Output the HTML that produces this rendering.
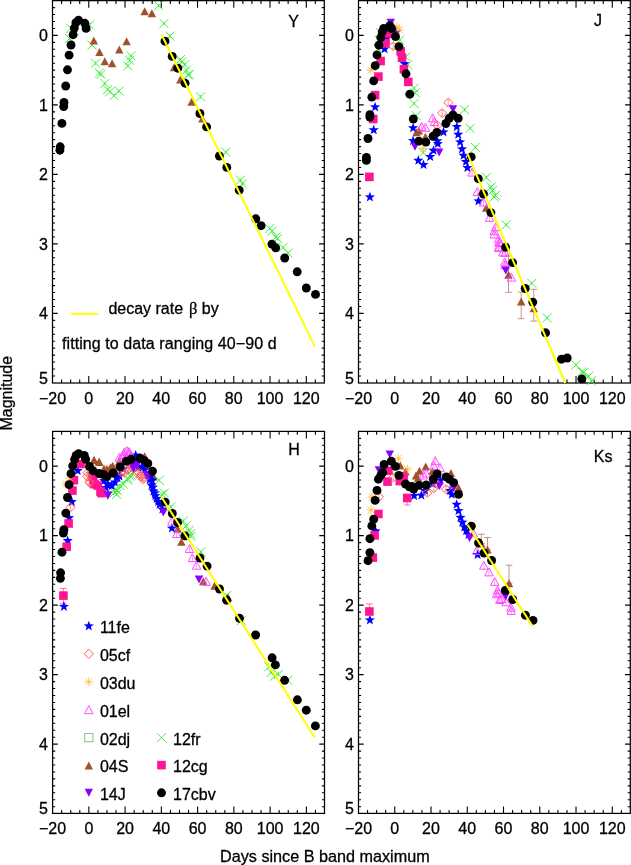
<!DOCTYPE html>
<html><head><meta charset="utf-8"><title>Light curves</title>
<style>html,body{margin:0;padding:0;background:#fff;width:631px;height:865px;overflow:hidden}
svg{display:block;will-change:transform} text{font-family:"Liberation Sans",sans-serif;stroke:#000;stroke-width:0.3px}</style></head>
<body><svg width="631" height="865" viewBox="0 0 631 865" font-family='"Liberation Sans", sans-serif' font-size="16" fill="#000"><rect x="52.5" y="0.65" width="271.8" height="382.35" fill="none" stroke="#000" stroke-width="1.25"/>
<path d="M61.56 383V379.6M61.56 0.65V4.05M70.63 383V379.6M70.63 0.65V4.05M79.69 383V379.6M79.69 0.65V4.05M88.75 383V376M88.75 0.65V7.65M97.82 383V379.6M97.82 0.65V4.05M106.88 383V379.6M106.88 0.65V4.05M115.94 383V379.6M115.94 0.65V4.05M125.01 383V376M125.01 0.65V7.65M134.07 383V379.6M134.07 0.65V4.05M143.13 383V379.6M143.13 0.65V4.05M152.2 383V379.6M152.2 0.65V4.05M161.26 383V376M161.26 0.65V7.65M170.33 383V379.6M170.33 0.65V4.05M179.39 383V379.6M179.39 0.65V4.05M188.45 383V379.6M188.45 0.65V4.05M197.52 383V376M197.52 0.65V7.65M206.58 383V379.6M206.58 0.65V4.05M215.64 383V379.6M215.64 0.65V4.05M224.71 383V379.6M224.71 0.65V4.05M233.77 383V376M233.77 0.65V7.65M242.83 383V379.6M242.83 0.65V4.05M251.9 383V379.6M251.9 0.65V4.05M260.96 383V379.6M260.96 0.65V4.05M270.02 383V376M270.02 0.65V7.65M279.09 383V379.6M279.09 0.65V4.05M288.15 383V379.6M288.15 0.65V4.05M297.21 383V379.6M297.21 0.65V4.05M306.28 383V376M306.28 0.65V7.65M315.34 383V379.6M315.34 0.65V4.05M52.5 7.6H55.1M324.3 7.6H321.7M52.5 14.55H55.1M324.3 14.55H321.7M52.5 21.5H55.1M324.3 21.5H321.7M52.5 28.45H55.1M324.3 28.45H321.7M52.5 35.4H57.7M324.3 35.4H319.1M52.5 42.35H55.1M324.3 42.35H321.7M52.5 49.3H55.1M324.3 49.3H321.7M52.5 56.25H55.1M324.3 56.25H321.7M52.5 63.2H55.1M324.3 63.2H321.7M52.5 70.15H55.1M324.3 70.15H321.7M52.5 77.1H55.1M324.3 77.1H321.7M52.5 84.05H55.1M324.3 84.05H321.7M52.5 91H55.1M324.3 91H321.7M52.5 97.95H55.1M324.3 97.95H321.7M52.5 104.9H57.7M324.3 104.9H319.1M52.5 111.85H55.1M324.3 111.85H321.7M52.5 118.8H55.1M324.3 118.8H321.7M52.5 125.75H55.1M324.3 125.75H321.7M52.5 132.7H55.1M324.3 132.7H321.7M52.5 139.65H55.1M324.3 139.65H321.7M52.5 146.6H55.1M324.3 146.6H321.7M52.5 153.55H55.1M324.3 153.55H321.7M52.5 160.5H55.1M324.3 160.5H321.7M52.5 167.45H55.1M324.3 167.45H321.7M52.5 174.4H57.7M324.3 174.4H319.1M52.5 181.35H55.1M324.3 181.35H321.7M52.5 188.3H55.1M324.3 188.3H321.7M52.5 195.25H55.1M324.3 195.25H321.7M52.5 202.2H55.1M324.3 202.2H321.7M52.5 209.15H55.1M324.3 209.15H321.7M52.5 216.1H55.1M324.3 216.1H321.7M52.5 223.05H55.1M324.3 223.05H321.7M52.5 230H55.1M324.3 230H321.7M52.5 236.95H55.1M324.3 236.95H321.7M52.5 243.9H57.7M324.3 243.9H319.1M52.5 250.85H55.1M324.3 250.85H321.7M52.5 257.8H55.1M324.3 257.8H321.7M52.5 264.75H55.1M324.3 264.75H321.7M52.5 271.7H55.1M324.3 271.7H321.7M52.5 278.65H55.1M324.3 278.65H321.7M52.5 285.6H55.1M324.3 285.6H321.7M52.5 292.55H55.1M324.3 292.55H321.7M52.5 299.5H55.1M324.3 299.5H321.7M52.5 306.45H55.1M324.3 306.45H321.7M52.5 313.4H57.7M324.3 313.4H319.1M52.5 320.35H55.1M324.3 320.35H321.7M52.5 327.3H55.1M324.3 327.3H321.7M52.5 334.25H55.1M324.3 334.25H321.7M52.5 341.2H55.1M324.3 341.2H321.7M52.5 348.15H55.1M324.3 348.15H321.7M52.5 355.1H55.1M324.3 355.1H321.7M52.5 362.05H55.1M324.3 362.05H321.7M52.5 369H55.1M324.3 369H321.7M52.5 375.95H55.1M324.3 375.95H321.7" stroke="#000" stroke-width="1.1" fill="none"/>
<text x="52.5" y="403.8" text-anchor="middle">−20</text>
<text x="88.75" y="403.8" text-anchor="middle">0</text>
<text x="125.01" y="403.8" text-anchor="middle">20</text>
<text x="161.26" y="403.8" text-anchor="middle">40</text>
<text x="197.52" y="403.8" text-anchor="middle">60</text>
<text x="233.77" y="403.8" text-anchor="middle">80</text>
<text x="270.02" y="403.8" text-anchor="middle">100</text>
<text x="306.28" y="403.8" text-anchor="middle">120</text>
<text x="47.9" y="41.1" text-anchor="end">0</text>
<text x="47.9" y="110.6" text-anchor="end">1</text>
<text x="47.9" y="180.1" text-anchor="end">2</text>
<text x="47.9" y="249.6" text-anchor="end">3</text>
<text x="47.9" y="319.1" text-anchor="end">4</text>
<text x="47.9" y="383.6" text-anchor="end">5</text>
<rect x="358.5" y="0.65" width="271.8" height="382.35" fill="none" stroke="#000" stroke-width="1.25"/>
<path d="M367.56 383V379.6M367.56 0.65V4.05M376.63 383V379.6M376.63 0.65V4.05M385.69 383V379.6M385.69 0.65V4.05M394.75 383V376M394.75 0.65V7.65M403.82 383V379.6M403.82 0.65V4.05M412.88 383V379.6M412.88 0.65V4.05M421.94 383V379.6M421.94 0.65V4.05M431.01 383V376M431.01 0.65V7.65M440.07 383V379.6M440.07 0.65V4.05M449.13 383V379.6M449.13 0.65V4.05M458.2 383V379.6M458.2 0.65V4.05M467.26 383V376M467.26 0.65V7.65M476.33 383V379.6M476.33 0.65V4.05M485.39 383V379.6M485.39 0.65V4.05M494.45 383V379.6M494.45 0.65V4.05M503.52 383V376M503.52 0.65V7.65M512.58 383V379.6M512.58 0.65V4.05M521.64 383V379.6M521.64 0.65V4.05M530.71 383V379.6M530.71 0.65V4.05M539.77 383V376M539.77 0.65V7.65M548.83 383V379.6M548.83 0.65V4.05M557.9 383V379.6M557.9 0.65V4.05M566.96 383V379.6M566.96 0.65V4.05M576.02 383V376M576.02 0.65V7.65M585.09 383V379.6M585.09 0.65V4.05M594.15 383V379.6M594.15 0.65V4.05M603.21 383V379.6M603.21 0.65V4.05M612.28 383V376M612.28 0.65V7.65M621.34 383V379.6M621.34 0.65V4.05M358.5 7.6H361.1M630.3 7.6H627.7M358.5 14.55H361.1M630.3 14.55H627.7M358.5 21.5H361.1M630.3 21.5H627.7M358.5 28.45H361.1M630.3 28.45H627.7M358.5 35.4H363.7M630.3 35.4H625.1M358.5 42.35H361.1M630.3 42.35H627.7M358.5 49.3H361.1M630.3 49.3H627.7M358.5 56.25H361.1M630.3 56.25H627.7M358.5 63.2H361.1M630.3 63.2H627.7M358.5 70.15H361.1M630.3 70.15H627.7M358.5 77.1H361.1M630.3 77.1H627.7M358.5 84.05H361.1M630.3 84.05H627.7M358.5 91H361.1M630.3 91H627.7M358.5 97.95H361.1M630.3 97.95H627.7M358.5 104.9H363.7M630.3 104.9H625.1M358.5 111.85H361.1M630.3 111.85H627.7M358.5 118.8H361.1M630.3 118.8H627.7M358.5 125.75H361.1M630.3 125.75H627.7M358.5 132.7H361.1M630.3 132.7H627.7M358.5 139.65H361.1M630.3 139.65H627.7M358.5 146.6H361.1M630.3 146.6H627.7M358.5 153.55H361.1M630.3 153.55H627.7M358.5 160.5H361.1M630.3 160.5H627.7M358.5 167.45H361.1M630.3 167.45H627.7M358.5 174.4H363.7M630.3 174.4H625.1M358.5 181.35H361.1M630.3 181.35H627.7M358.5 188.3H361.1M630.3 188.3H627.7M358.5 195.25H361.1M630.3 195.25H627.7M358.5 202.2H361.1M630.3 202.2H627.7M358.5 209.15H361.1M630.3 209.15H627.7M358.5 216.1H361.1M630.3 216.1H627.7M358.5 223.05H361.1M630.3 223.05H627.7M358.5 230H361.1M630.3 230H627.7M358.5 236.95H361.1M630.3 236.95H627.7M358.5 243.9H363.7M630.3 243.9H625.1M358.5 250.85H361.1M630.3 250.85H627.7M358.5 257.8H361.1M630.3 257.8H627.7M358.5 264.75H361.1M630.3 264.75H627.7M358.5 271.7H361.1M630.3 271.7H627.7M358.5 278.65H361.1M630.3 278.65H627.7M358.5 285.6H361.1M630.3 285.6H627.7M358.5 292.55H361.1M630.3 292.55H627.7M358.5 299.5H361.1M630.3 299.5H627.7M358.5 306.45H361.1M630.3 306.45H627.7M358.5 313.4H363.7M630.3 313.4H625.1M358.5 320.35H361.1M630.3 320.35H627.7M358.5 327.3H361.1M630.3 327.3H627.7M358.5 334.25H361.1M630.3 334.25H627.7M358.5 341.2H361.1M630.3 341.2H627.7M358.5 348.15H361.1M630.3 348.15H627.7M358.5 355.1H361.1M630.3 355.1H627.7M358.5 362.05H361.1M630.3 362.05H627.7M358.5 369H361.1M630.3 369H627.7M358.5 375.95H361.1M630.3 375.95H627.7" stroke="#000" stroke-width="1.1" fill="none"/>
<text x="358.5" y="403.8" text-anchor="middle">−20</text>
<text x="394.75" y="403.8" text-anchor="middle">0</text>
<text x="431.01" y="403.8" text-anchor="middle">20</text>
<text x="467.26" y="403.8" text-anchor="middle">40</text>
<text x="503.52" y="403.8" text-anchor="middle">60</text>
<text x="539.77" y="403.8" text-anchor="middle">80</text>
<text x="576.02" y="403.8" text-anchor="middle">100</text>
<text x="612.28" y="403.8" text-anchor="middle">120</text>
<text x="353.9" y="41.1" text-anchor="end">0</text>
<text x="353.9" y="110.6" text-anchor="end">1</text>
<text x="353.9" y="180.1" text-anchor="end">2</text>
<text x="353.9" y="249.6" text-anchor="end">3</text>
<text x="353.9" y="319.1" text-anchor="end">4</text>
<text x="353.9" y="383.6" text-anchor="end">5</text>
<rect x="52.6" y="431.4" width="271.9" height="382" fill="none" stroke="#000" stroke-width="1.25"/>
<path d="M61.66 813.4V810M61.66 431.4V434.8M70.73 813.4V810M70.73 431.4V434.8M79.79 813.4V810M79.79 431.4V434.8M88.85 813.4V806.4M88.85 431.4V438.4M97.92 813.4V810M97.92 431.4V434.8M106.98 813.4V810M106.98 431.4V434.8M116.04 813.4V810M116.04 431.4V434.8M125.11 813.4V806.4M125.11 431.4V438.4M134.17 813.4V810M134.17 431.4V434.8M143.24 813.4V810M143.24 431.4V434.8M152.3 813.4V810M152.3 431.4V434.8M161.36 813.4V806.4M161.36 431.4V438.4M170.43 813.4V810M170.43 431.4V434.8M179.49 813.4V810M179.49 431.4V434.8M188.55 813.4V810M188.55 431.4V434.8M197.62 813.4V806.4M197.62 431.4V438.4M206.68 813.4V810M206.68 431.4V434.8M215.74 813.4V810M215.74 431.4V434.8M224.81 813.4V810M224.81 431.4V434.8M233.87 813.4V806.4M233.87 431.4V438.4M242.93 813.4V810M242.93 431.4V434.8M252 813.4V810M252 431.4V434.8M261.06 813.4V810M261.06 431.4V434.8M270.12 813.4V806.4M270.12 431.4V438.4M279.19 813.4V810M279.19 431.4V434.8M288.25 813.4V810M288.25 431.4V434.8M297.31 813.4V810M297.31 431.4V434.8M306.38 813.4V806.4M306.38 431.4V438.4M315.44 813.4V810M315.44 431.4V434.8M52.6 438.35H55.2M324.5 438.35H321.9M52.6 445.3H55.2M324.5 445.3H321.9M52.6 452.25H55.2M324.5 452.25H321.9M52.6 459.2H55.2M324.5 459.2H321.9M52.6 466.15H57.8M324.5 466.15H319.3M52.6 473.1H55.2M324.5 473.1H321.9M52.6 480.05H55.2M324.5 480.05H321.9M52.6 487H55.2M324.5 487H321.9M52.6 493.95H55.2M324.5 493.95H321.9M52.6 500.9H55.2M324.5 500.9H321.9M52.6 507.85H55.2M324.5 507.85H321.9M52.6 514.8H55.2M324.5 514.8H321.9M52.6 521.75H55.2M324.5 521.75H321.9M52.6 528.7H55.2M324.5 528.7H321.9M52.6 535.65H57.8M324.5 535.65H319.3M52.6 542.6H55.2M324.5 542.6H321.9M52.6 549.55H55.2M324.5 549.55H321.9M52.6 556.5H55.2M324.5 556.5H321.9M52.6 563.45H55.2M324.5 563.45H321.9M52.6 570.4H55.2M324.5 570.4H321.9M52.6 577.35H55.2M324.5 577.35H321.9M52.6 584.3H55.2M324.5 584.3H321.9M52.6 591.25H55.2M324.5 591.25H321.9M52.6 598.2H55.2M324.5 598.2H321.9M52.6 605.15H57.8M324.5 605.15H319.3M52.6 612.1H55.2M324.5 612.1H321.9M52.6 619.05H55.2M324.5 619.05H321.9M52.6 626H55.2M324.5 626H321.9M52.6 632.95H55.2M324.5 632.95H321.9M52.6 639.9H55.2M324.5 639.9H321.9M52.6 646.85H55.2M324.5 646.85H321.9M52.6 653.8H55.2M324.5 653.8H321.9M52.6 660.75H55.2M324.5 660.75H321.9M52.6 667.7H55.2M324.5 667.7H321.9M52.6 674.65H57.8M324.5 674.65H319.3M52.6 681.6H55.2M324.5 681.6H321.9M52.6 688.55H55.2M324.5 688.55H321.9M52.6 695.5H55.2M324.5 695.5H321.9M52.6 702.45H55.2M324.5 702.45H321.9M52.6 709.4H55.2M324.5 709.4H321.9M52.6 716.35H55.2M324.5 716.35H321.9M52.6 723.3H55.2M324.5 723.3H321.9M52.6 730.25H55.2M324.5 730.25H321.9M52.6 737.2H55.2M324.5 737.2H321.9M52.6 744.15H57.8M324.5 744.15H319.3M52.6 751.1H55.2M324.5 751.1H321.9M52.6 758.05H55.2M324.5 758.05H321.9M52.6 765H55.2M324.5 765H321.9M52.6 771.95H55.2M324.5 771.95H321.9M52.6 778.9H55.2M324.5 778.9H321.9M52.6 785.85H55.2M324.5 785.85H321.9M52.6 792.8H55.2M324.5 792.8H321.9M52.6 799.75H55.2M324.5 799.75H321.9M52.6 806.7H55.2M324.5 806.7H321.9" stroke="#000" stroke-width="1.1" fill="none"/>
<text x="52.6" y="834.2" text-anchor="middle">−20</text>
<text x="88.85" y="834.2" text-anchor="middle">0</text>
<text x="125.11" y="834.2" text-anchor="middle">20</text>
<text x="161.36" y="834.2" text-anchor="middle">40</text>
<text x="197.62" y="834.2" text-anchor="middle">60</text>
<text x="233.87" y="834.2" text-anchor="middle">80</text>
<text x="270.12" y="834.2" text-anchor="middle">100</text>
<text x="306.38" y="834.2" text-anchor="middle">120</text>
<text x="48" y="471.85" text-anchor="end">0</text>
<text x="48" y="541.35" text-anchor="end">1</text>
<text x="48" y="610.85" text-anchor="end">2</text>
<text x="48" y="680.35" text-anchor="end">3</text>
<text x="48" y="749.85" text-anchor="end">4</text>
<text x="48" y="814.35" text-anchor="end">5</text>
<rect x="358.5" y="431.4" width="271.8" height="382" fill="none" stroke="#000" stroke-width="1.25"/>
<path d="M367.56 813.4V810M367.56 431.4V434.8M376.63 813.4V810M376.63 431.4V434.8M385.69 813.4V810M385.69 431.4V434.8M394.75 813.4V806.4M394.75 431.4V438.4M403.82 813.4V810M403.82 431.4V434.8M412.88 813.4V810M412.88 431.4V434.8M421.94 813.4V810M421.94 431.4V434.8M431.01 813.4V806.4M431.01 431.4V438.4M440.07 813.4V810M440.07 431.4V434.8M449.13 813.4V810M449.13 431.4V434.8M458.2 813.4V810M458.2 431.4V434.8M467.26 813.4V806.4M467.26 431.4V438.4M476.33 813.4V810M476.33 431.4V434.8M485.39 813.4V810M485.39 431.4V434.8M494.45 813.4V810M494.45 431.4V434.8M503.52 813.4V806.4M503.52 431.4V438.4M512.58 813.4V810M512.58 431.4V434.8M521.64 813.4V810M521.64 431.4V434.8M530.71 813.4V810M530.71 431.4V434.8M539.77 813.4V806.4M539.77 431.4V438.4M548.83 813.4V810M548.83 431.4V434.8M557.9 813.4V810M557.9 431.4V434.8M566.96 813.4V810M566.96 431.4V434.8M576.02 813.4V806.4M576.02 431.4V438.4M585.09 813.4V810M585.09 431.4V434.8M594.15 813.4V810M594.15 431.4V434.8M603.21 813.4V810M603.21 431.4V434.8M612.28 813.4V806.4M612.28 431.4V438.4M621.34 813.4V810M621.34 431.4V434.8M358.5 438.35H361.1M630.3 438.35H627.7M358.5 445.3H361.1M630.3 445.3H627.7M358.5 452.25H361.1M630.3 452.25H627.7M358.5 459.2H361.1M630.3 459.2H627.7M358.5 466.15H363.7M630.3 466.15H625.1M358.5 473.1H361.1M630.3 473.1H627.7M358.5 480.05H361.1M630.3 480.05H627.7M358.5 487H361.1M630.3 487H627.7M358.5 493.95H361.1M630.3 493.95H627.7M358.5 500.9H361.1M630.3 500.9H627.7M358.5 507.85H361.1M630.3 507.85H627.7M358.5 514.8H361.1M630.3 514.8H627.7M358.5 521.75H361.1M630.3 521.75H627.7M358.5 528.7H361.1M630.3 528.7H627.7M358.5 535.65H363.7M630.3 535.65H625.1M358.5 542.6H361.1M630.3 542.6H627.7M358.5 549.55H361.1M630.3 549.55H627.7M358.5 556.5H361.1M630.3 556.5H627.7M358.5 563.45H361.1M630.3 563.45H627.7M358.5 570.4H361.1M630.3 570.4H627.7M358.5 577.35H361.1M630.3 577.35H627.7M358.5 584.3H361.1M630.3 584.3H627.7M358.5 591.25H361.1M630.3 591.25H627.7M358.5 598.2H361.1M630.3 598.2H627.7M358.5 605.15H363.7M630.3 605.15H625.1M358.5 612.1H361.1M630.3 612.1H627.7M358.5 619.05H361.1M630.3 619.05H627.7M358.5 626H361.1M630.3 626H627.7M358.5 632.95H361.1M630.3 632.95H627.7M358.5 639.9H361.1M630.3 639.9H627.7M358.5 646.85H361.1M630.3 646.85H627.7M358.5 653.8H361.1M630.3 653.8H627.7M358.5 660.75H361.1M630.3 660.75H627.7M358.5 667.7H361.1M630.3 667.7H627.7M358.5 674.65H363.7M630.3 674.65H625.1M358.5 681.6H361.1M630.3 681.6H627.7M358.5 688.55H361.1M630.3 688.55H627.7M358.5 695.5H361.1M630.3 695.5H627.7M358.5 702.45H361.1M630.3 702.45H627.7M358.5 709.4H361.1M630.3 709.4H627.7M358.5 716.35H361.1M630.3 716.35H627.7M358.5 723.3H361.1M630.3 723.3H627.7M358.5 730.25H361.1M630.3 730.25H627.7M358.5 737.2H361.1M630.3 737.2H627.7M358.5 744.15H363.7M630.3 744.15H625.1M358.5 751.1H361.1M630.3 751.1H627.7M358.5 758.05H361.1M630.3 758.05H627.7M358.5 765H361.1M630.3 765H627.7M358.5 771.95H361.1M630.3 771.95H627.7M358.5 778.9H361.1M630.3 778.9H627.7M358.5 785.85H361.1M630.3 785.85H627.7M358.5 792.8H361.1M630.3 792.8H627.7M358.5 799.75H361.1M630.3 799.75H627.7M358.5 806.7H361.1M630.3 806.7H627.7" stroke="#000" stroke-width="1.1" fill="none"/>
<text x="358.5" y="834.2" text-anchor="middle">−20</text>
<text x="394.75" y="834.2" text-anchor="middle">0</text>
<text x="431.01" y="834.2" text-anchor="middle">20</text>
<text x="467.26" y="834.2" text-anchor="middle">40</text>
<text x="503.52" y="834.2" text-anchor="middle">60</text>
<text x="539.77" y="834.2" text-anchor="middle">80</text>
<text x="576.02" y="834.2" text-anchor="middle">100</text>
<text x="612.28" y="834.2" text-anchor="middle">120</text>
<text x="353.9" y="471.85" text-anchor="end">0</text>
<text x="353.9" y="541.35" text-anchor="end">1</text>
<text x="353.9" y="610.85" text-anchor="end">2</text>
<text x="353.9" y="680.35" text-anchor="end">3</text>
<text x="353.9" y="749.85" text-anchor="end">4</text>
<text x="353.9" y="814.35" text-anchor="end">5</text>
<path d="M65.1 34L74.1 43M65.1 43L74.1 34M69.6 36.9V40.1" stroke="#44ee44" stroke-width="1.0" fill="none"/>
<path d="M66.3 23.9L75.3 32.9M66.3 32.9L75.3 23.9M70.8 26.8V30" stroke="#44ee44" stroke-width="1.0" fill="none"/>
<path d="M69.5 26.5L78.5 35.5M69.5 35.5L78.5 26.5M74 29.4V32.6" stroke="#44ee44" stroke-width="1.0" fill="none"/>
<path d="M82.5 22.5L91.5 31.5M82.5 31.5L91.5 22.5M87 25.4V28.6" stroke="#44ee44" stroke-width="1.0" fill="none"/>
<path d="M85 20.5L94 29.5M85 29.5L94 20.5M89.5 23.4V26.6" stroke="#44ee44" stroke-width="1.0" fill="none"/>
<path d="M87.4 40.5L96.4 49.5M87.4 49.5L96.4 40.5M91.9 43.4V46.6" stroke="#44ee44" stroke-width="1.0" fill="none"/>
<path d="M91.1 58.7L100.1 67.7M91.1 67.7L100.1 58.7M95.6 61.6V64.8" stroke="#44ee44" stroke-width="1.0" fill="none"/>
<path d="M94.9 68.6L103.9 77.6M94.9 77.6L103.9 68.6M99.4 71.5V74.7" stroke="#44ee44" stroke-width="1.0" fill="none"/>
<path d="M96.5 69.8L105.5 78.8M96.5 78.8L105.5 69.8M101 72.7V75.9" stroke="#44ee44" stroke-width="1.0" fill="none"/>
<path d="M100.3 79L109.3 88M100.3 88L109.3 79M104.8 81.9V85.1" stroke="#44ee44" stroke-width="1.0" fill="none"/>
<path d="M103.2 85L112.2 94M103.2 94L112.2 85M107.7 87.9V91.1" stroke="#44ee44" stroke-width="1.0" fill="none"/>
<path d="M105.4 87.3L114.4 96.3M105.4 96.3L114.4 87.3M109.9 90.2V93.4" stroke="#44ee44" stroke-width="1.0" fill="none"/>
<path d="M109.5 91.1L118.5 100.1M109.5 100.1L118.5 91.1M114 94V97.2" stroke="#44ee44" stroke-width="1.0" fill="none"/>
<path d="M114.6 86.6L123.6 95.6M114.6 95.6L123.6 86.6M119.1 89.5V92.7" stroke="#44ee44" stroke-width="1.0" fill="none"/>
<path d="M123.3 61.4L132.3 70.4M123.3 70.4L132.3 61.4M127.8 64.3V67.5" stroke="#44ee44" stroke-width="1.0" fill="none"/>
<path d="M125.2 55.7L134.2 64.7M125.2 64.7L134.2 55.7M129.7 58.6V61.8" stroke="#44ee44" stroke-width="1.0" fill="none"/>
<path d="M126.5 51.3L135.5 60.3M126.5 60.3L135.5 51.3M131 54.2V57.4" stroke="#44ee44" stroke-width="1.0" fill="none"/>
<path d="M154.1 1.2L163.1 10.2M154.1 10.2L163.1 1.2M158.6 4.1V7.3" stroke="#44ee44" stroke-width="1.0" fill="none"/>
<path d="M159.5 18.9L168.5 27.9M159.5 27.9L168.5 18.9M164 21.8V25" stroke="#44ee44" stroke-width="1.0" fill="none"/>
<path d="M165.5 31.6L174.5 40.6M165.5 40.6L174.5 31.6M170 34.5V37.7" stroke="#44ee44" stroke-width="1.0" fill="none"/>
<path d="M175.9 55.1L184.9 64.1M175.9 64.1L184.9 55.1M180.4 58V61.2" stroke="#44ee44" stroke-width="1.0" fill="none"/>
<path d="M177 57.4L186 66.4M177 66.4L186 57.4M181.5 60.3V63.5" stroke="#44ee44" stroke-width="1.0" fill="none"/>
<path d="M180.4 60.1L189.4 69.1M180.4 69.1L189.4 60.1M184.9 63V66.2" stroke="#44ee44" stroke-width="1.0" fill="none"/>
<path d="M182.1 65.6L191.1 74.6M182.1 74.6L191.1 65.6M186.6 68.5V71.7" stroke="#44ee44" stroke-width="1.0" fill="none"/>
<path d="M183.5 70.3L192.5 79.3M183.5 79.3L192.5 70.3M188 73.2V76.4" stroke="#44ee44" stroke-width="1.0" fill="none"/>
<path d="M184.6 70.1L193.6 79.1M184.6 79.1L193.6 70.1M189.1 73V76.2" stroke="#44ee44" stroke-width="1.0" fill="none"/>
<path d="M196 92.3L205 101.3M196 101.3L205 92.3M200.5 95.2V98.4" stroke="#44ee44" stroke-width="1.0" fill="none"/>
<path d="M221.2 147.7L230.2 156.7M221.2 156.7L230.2 147.7M225.7 150.6V153.8" stroke="#44ee44" stroke-width="1.0" fill="none"/>
<path d="M236 175.6L245 184.6M236 184.6L245 175.6M240.5 178.5V181.7" stroke="#44ee44" stroke-width="1.0" fill="none"/>
<path d="M237.9 179.4L246.9 188.4M237.9 188.4L246.9 179.4M242.4 182.3V185.5" stroke="#44ee44" stroke-width="1.0" fill="none"/>
<path d="M265.2 224L274.2 233M265.2 233L274.2 224M269.7 226.9V230.1" stroke="#44ee44" stroke-width="1.0" fill="none"/>
<path d="M267.7 226.5L276.7 235.5M267.7 235.5L276.7 226.5M272.2 229.4V232.6" stroke="#44ee44" stroke-width="1.0" fill="none"/>
<path d="M271.6 232.3L280.6 241.3M271.6 241.3L280.6 232.3M276.1 235.2V238.4" stroke="#44ee44" stroke-width="1.0" fill="none"/>
<path d="M272.8 234.2L281.8 243.2M272.8 243.2L281.8 234.2M277.3 237.1V240.3" stroke="#44ee44" stroke-width="1.0" fill="none"/>
<path d="M278.5 243L287.5 252M278.5 252L287.5 243M283 245.9V249.1" stroke="#44ee44" stroke-width="1.0" fill="none"/>
<path d="M283.6 248.7L292.6 257.7M283.6 257.7L292.6 248.7M288.1 251.6V254.8" stroke="#44ee44" stroke-width="1.0" fill="none"/>
<polygon points="93.8,36.6 98,44.6 89.6,44.6" fill="#a0522d"/>
<polygon points="99.5,48 103.7,56 95.3,56" fill="#a0522d"/>
<polygon points="104.8,57.3 109,65.3 100.6,65.3" fill="#a0522d"/>
<polygon points="112.1,59.2 116.3,67.2 107.9,67.2" fill="#a0522d"/>
<polygon points="119.3,45.4 123.5,53.4 115.1,53.4" fill="#a0522d"/>
<polygon points="126.6,37.2 130.8,45.2 122.4,45.2" fill="#a0522d"/>
<polygon points="144.7,7.2 148.9,15.2 140.5,15.2" fill="#a0522d"/>
<polygon points="151.9,9.3 156.1,17.3 147.7,17.3" fill="#a0522d"/>
<polygon points="174.1,63.2 178.3,71.2 169.9,71.2" fill="#a0522d"/>
<polygon points="180.3,75.5 184.5,83.5 176.1,83.5" fill="#a0522d"/>
<polygon points="191.6,97.8 195.8,105.8 187.4,105.8" fill="#a0522d"/>
<polygon points="202.4,114.6 206.6,122.6 198.2,122.6" fill="#a0522d"/>
<circle cx="59.9" cy="150.2" r="4.45" fill="#000"/>
<circle cx="60.2" cy="146.8" r="4.45" fill="#000"/>
<circle cx="61.9" cy="123.4" r="4.45" fill="#000"/>
<circle cx="63.7" cy="106.6" r="4.45" fill="#000"/>
<circle cx="64" cy="102.5" r="4.45" fill="#000"/>
<circle cx="65.7" cy="86" r="4.45" fill="#000"/>
<circle cx="67.5" cy="69.8" r="4.45" fill="#000"/>
<circle cx="69.1" cy="55.1" r="4.45" fill="#000"/>
<circle cx="71" cy="45" r="4.45" fill="#000"/>
<circle cx="73.1" cy="34.7" r="4.45" fill="#000"/>
<circle cx="74.3" cy="28.1" r="4.45" fill="#000"/>
<circle cx="75.9" cy="22.7" r="4.45" fill="#000"/>
<circle cx="78.5" cy="20.1" r="4.45" fill="#000"/>
<circle cx="84.8" cy="23.3" r="4.45" fill="#000"/>
<circle cx="86.1" cy="28.4" r="4.45" fill="#000"/>
<circle cx="165" cy="41.2" r="4.45" fill="#000"/>
<circle cx="172.2" cy="56.4" r="4.45" fill="#000"/>
<circle cx="177.8" cy="68.2" r="4.45" fill="#000"/>
<circle cx="185.1" cy="83.2" r="4.45" fill="#000"/>
<circle cx="199.9" cy="113.5" r="4.45" fill="#000"/>
<circle cx="206.6" cy="126.9" r="4.45" fill="#000"/>
<circle cx="219.4" cy="156" r="4.45" fill="#000"/>
<circle cx="226.8" cy="167.4" r="4.45" fill="#000"/>
<circle cx="239.2" cy="190.2" r="4.45" fill="#000"/>
<circle cx="255.8" cy="218.8" r="4.45" fill="#000"/>
<circle cx="261.1" cy="225.7" r="4.45" fill="#000"/>
<circle cx="271.9" cy="244.1" r="4.45" fill="#000"/>
<circle cx="275.7" cy="247.8" r="4.45" fill="#000"/>
<circle cx="284.7" cy="258" r="4.45" fill="#000"/>
<circle cx="297.2" cy="271.8" r="4.45" fill="#000"/>
<circle cx="306.3" cy="288" r="4.45" fill="#000"/>
<circle cx="315.5" cy="294.4" r="4.45" fill="#000"/>
<line x1="161.4" y1="34.2" x2="314.9" y2="346.4" stroke="#ffff00" stroke-width="2"/>
<path d="M508.5 255.2V292.3M505.1 255.2H511.9M505.1 292.3H511.9" stroke="#a0522d" stroke-width="1" fill="none" opacity="0.6"/>
<path d="M521.2 292.1V318.7M517.8 292.1H524.6M517.8 318.7H524.6" stroke="#a0522d" stroke-width="1" fill="none" opacity="0.6"/>
<path d="M533.8 289.3V321.1M530.4 289.3H537.2M530.4 321.1H537.2" stroke="#a0522d" stroke-width="1" fill="none" opacity="0.6"/>
<path d="M373.7 44.1L382.7 53.1M373.7 53.1L382.7 44.1M378.2 47V50.2" stroke="#44ee44" stroke-width="1.0" fill="none"/>
<path d="M374.8 35.9L383.8 44.9M374.8 44.9L383.8 35.9M379.3 38.8V42" stroke="#44ee44" stroke-width="1.0" fill="none"/>
<path d="M375.8 28L384.8 37M375.8 37L384.8 28M380.3 30.9V34.1" stroke="#44ee44" stroke-width="1.0" fill="none"/>
<path d="M395.3 35.5L404.3 44.5M395.3 44.5L404.3 35.5M399.8 38.4V41.6" stroke="#44ee44" stroke-width="1.0" fill="none"/>
<path d="M401.3 52.5L410.3 61.5M401.3 61.5L410.3 52.5M405.8 55.4V58.6" stroke="#44ee44" stroke-width="1.0" fill="none"/>
<path d="M403.3 60.2L412.3 69.2M403.3 69.2L412.3 60.2M407.8 63.1V66.3" stroke="#44ee44" stroke-width="1.0" fill="none"/>
<path d="M409.5 83.7L418.5 92.7M409.5 92.7L418.5 83.7M414 86.6V89.8" stroke="#44ee44" stroke-width="1.0" fill="none"/>
<path d="M410.8 88.2L419.8 97.2M410.8 97.2L419.8 88.2M415.3 91.1V94.3" stroke="#44ee44" stroke-width="1.0" fill="none"/>
<path d="M409.5 99.1L418.5 108.1M409.5 108.1L418.5 99.1M414 102V105.2" stroke="#44ee44" stroke-width="1.0" fill="none"/>
<path d="M411.7 111L420.7 120M411.7 120L420.7 111M416.2 113.9V117.1" stroke="#44ee44" stroke-width="1.0" fill="none"/>
<path d="M418.6 147.9L427.6 156.9M418.6 156.9L427.6 147.9M423.1 150.8V154" stroke="#44ee44" stroke-width="1.0" fill="none"/>
<path d="M460 105.2L469 114.2M460 114.2L469 105.2M464.5 108.1V111.3" stroke="#44ee44" stroke-width="1.0" fill="none"/>
<path d="M465.7 123.8L474.7 132.8M465.7 132.8L474.7 123.8M470.2 126.7V129.9" stroke="#44ee44" stroke-width="1.0" fill="none"/>
<path d="M470.9 142.8L479.9 151.8M470.9 151.8L479.9 142.8M475.4 145.7V148.9" stroke="#44ee44" stroke-width="1.0" fill="none"/>
<path d="M481.9 172.8L490.9 181.8M481.9 181.8L490.9 172.8M486.4 175.7V178.9" stroke="#44ee44" stroke-width="1.0" fill="none"/>
<path d="M486.6 182.3L495.6 191.3M486.6 191.3L495.6 182.3M491.1 185.2V188.4" stroke="#44ee44" stroke-width="1.0" fill="none"/>
<path d="M488 186.1L497 195.1M488 195.1L497 186.1M492.5 189V192.2" stroke="#44ee44" stroke-width="1.0" fill="none"/>
<path d="M490.9 190.9L499.9 199.9M490.9 199.9L499.9 190.9M495.4 193.8V197" stroke="#44ee44" stroke-width="1.0" fill="none"/>
<path d="M489.7 192.4L498.7 201.4M489.7 201.4L498.7 192.4M494.2 195.3V198.5" stroke="#44ee44" stroke-width="1.0" fill="none"/>
<path d="M501.6 220.4L510.6 229.4M501.6 229.4L510.6 220.4M506.1 223.3V226.5" stroke="#44ee44" stroke-width="1.0" fill="none"/>
<path d="M527.3 278.8L536.3 287.8M527.3 287.8L536.3 278.8M531.8 281.7V284.9" stroke="#44ee44" stroke-width="1.0" fill="none"/>
<path d="M542.6 313.3L551.6 322.3M542.6 322.3L551.6 313.3M547.1 316.2V319.4" stroke="#44ee44" stroke-width="1.0" fill="none"/>
<path d="M571.5 360.4L580.5 369.4M571.5 369.4L580.5 360.4M576 363.3V366.5" stroke="#44ee44" stroke-width="1.0" fill="none"/>
<path d="M577.3 367.4L586.3 376.4M577.3 376.4L586.3 367.4M581.8 370.3V373.5" stroke="#44ee44" stroke-width="1.0" fill="none"/>
<path d="M579.2 368L588.2 377M579.2 377L588.2 368M583.7 370.9V374.1" stroke="#44ee44" stroke-width="1.0" fill="none"/>
<path d="M584.2 371.8L593.2 380.8M584.2 380.8L593.2 371.8M588.7 374.7V377.9" stroke="#44ee44" stroke-width="1.0" fill="none"/>
<path d="M586.8 376.3L595.8 385.3M586.8 385.3L595.8 376.3M591.3 379.2V382.4" stroke="#44ee44" stroke-width="1.0" fill="none"/>
<polygon points="416.5,128.3 420.7,136.3 412.3,136.3" fill="#a0522d"/>
<polygon points="418.8,126.6 423,134.6 414.6,134.6" fill="#a0522d"/>
<polygon points="425.4,132.8 429.6,140.8 421.2,140.8" fill="#a0522d"/>
<polygon points="481.1,188.1 485.3,196.1 476.9,196.1" fill="#a0522d"/>
<polygon points="486.2,203.8 490.4,211.8 482,211.8" fill="#a0522d"/>
<polygon points="508.5,270.7 512.7,278.7 504.3,278.7" fill="#a0522d"/>
<polygon points="521.2,297.6 525.4,305.6 517,305.6" fill="#a0522d"/>
<polygon points="533.8,304.3 538,312.3 529.6,312.3" fill="#a0522d"/>
<polygon points="369.9,191.8 371.19,195.32 374.94,195.46 371.99,197.78 373.02,201.39 369.9,199.3 366.78,201.39 367.81,197.78 364.86,195.46 368.61,195.32" fill="#0000ff"/>
<polygon points="373.7,124.7 374.99,128.22 378.74,128.36 375.79,130.68 376.82,134.29 373.7,132.2 370.58,134.29 371.61,130.68 368.66,128.36 372.41,128.22" fill="#0000ff"/>
<polygon points="375.1,101.8 376.39,105.32 380.14,105.46 377.19,107.78 378.22,111.39 375.1,109.3 371.98,111.39 373.01,107.78 370.06,105.46 373.81,105.32" fill="#0000ff"/>
<polygon points="384.6,43.7 385.89,47.22 389.64,47.36 386.69,49.68 387.72,53.29 384.6,51.2 381.48,53.29 382.51,49.68 379.56,47.36 383.31,47.22" fill="#0000ff"/>
<polygon points="386.5,33.2 387.79,36.72 391.54,36.86 388.59,39.18 389.62,42.79 386.5,40.7 383.38,42.79 384.41,39.18 381.46,36.86 385.21,36.72" fill="#0000ff"/>
<polygon points="396,27.1 397.29,30.62 401.04,30.76 398.09,33.08 399.12,36.69 396,34.6 392.88,36.69 393.91,33.08 390.96,30.76 394.71,30.62" fill="#0000ff"/>
<polygon points="404.6,58.5 405.89,62.02 409.64,62.16 406.69,64.48 407.72,68.09 404.6,66 401.48,68.09 402.51,64.48 399.56,62.16 403.31,62.02" fill="#0000ff"/>
<polygon points="413.1,122.7 414.39,126.22 418.14,126.36 415.19,128.68 416.22,132.29 413.1,130.2 409.98,132.29 411.01,128.68 408.06,126.36 411.81,126.22" fill="#0000ff"/>
<polygon points="413.1,135.6 414.39,139.12 418.14,139.26 415.19,141.58 416.22,145.19 413.1,143.1 409.98,145.19 411.01,141.58 408.06,139.26 411.81,139.12" fill="#0000ff"/>
<polygon points="418.3,155.2 419.59,158.72 423.34,158.86 420.39,161.18 421.42,164.79 418.3,162.7 415.18,164.79 416.21,161.18 413.26,158.86 417.01,158.72" fill="#0000ff"/>
<polygon points="423.5,159.4 424.79,162.92 428.54,163.06 425.59,165.38 426.62,168.99 423.5,166.9 420.38,168.99 421.41,165.38 418.46,163.06 422.21,162.92" fill="#0000ff"/>
<polygon points="430.2,151.4 431.49,154.92 435.24,155.06 432.29,157.38 433.32,160.99 430.2,158.9 427.08,160.99 428.11,157.38 425.16,155.06 428.91,154.92" fill="#0000ff"/>
<polygon points="433.5,145.2 434.79,148.72 438.54,148.86 435.59,151.18 436.62,154.79 433.5,152.7 430.38,154.79 431.41,151.18 428.46,148.86 432.21,148.72" fill="#0000ff"/>
<polygon points="437.8,138.5 439.09,142.02 442.84,142.16 439.89,144.48 440.92,148.09 437.8,146 434.68,148.09 435.71,144.48 432.76,142.16 436.51,142.02" fill="#0000ff"/>
<polygon points="443.5,126.8 444.79,130.32 448.54,130.46 445.59,132.78 446.62,136.39 443.5,134.3 440.38,136.39 441.41,132.78 438.46,130.46 442.21,130.32" fill="#0000ff"/>
<polygon points="437.3,135.8 438.59,139.32 442.34,139.46 439.39,141.78 440.42,145.39 437.3,143.3 434.18,145.39 435.21,141.78 432.26,139.46 436.01,139.32" fill="#0000ff"/>
<polygon points="456.8,121.6 458.09,125.12 461.84,125.26 458.89,127.58 459.92,131.19 456.8,129.1 453.68,131.19 454.71,127.58 451.76,125.26 455.51,125.12" fill="#0000ff"/>
<polygon points="458.2,129.2 459.49,132.72 463.24,132.86 460.29,135.18 461.32,138.79 458.2,136.7 455.08,138.79 456.11,135.18 453.16,132.86 456.91,132.72" fill="#0000ff"/>
<polygon points="460.1,136.8 461.39,140.32 465.14,140.46 462.19,142.78 463.22,146.39 460.1,144.3 456.98,146.39 458.01,142.78 455.06,140.46 458.81,140.32" fill="#0000ff"/>
<polygon points="462,143.8 463.29,147.32 467.04,147.46 464.09,149.78 465.12,153.39 462,151.3 458.88,153.39 459.91,149.78 456.96,147.46 460.71,147.32" fill="#0000ff"/>
<polygon points="463.5,150.2 464.79,153.72 468.54,153.86 465.59,156.18 466.62,159.79 463.5,157.7 460.38,159.79 461.41,156.18 458.46,153.86 462.21,153.72" fill="#0000ff"/>
<polygon points="465.9,156.4 467.19,159.92 470.94,160.06 467.99,162.38 469.02,165.99 465.9,163.9 462.78,165.99 463.81,162.38 460.86,160.06 464.61,159.92" fill="#0000ff"/>
<polygon points="467.4,162.5 468.69,166.02 472.44,166.16 469.49,168.48 470.52,172.09 467.4,170 464.28,172.09 465.31,168.48 462.36,166.16 466.11,166.02" fill="#0000ff"/>
<polygon points="478.5,195.8 479.79,199.32 483.54,199.46 480.59,201.78 481.62,205.39 478.5,203.3 475.38,205.39 476.41,201.78 473.46,199.46 477.21,199.32" fill="#0000ff"/>
<rect x="365.1" y="172.6" width="8.6" height="8.6" fill="#ff1493"/>
<rect x="368.9" y="114.7" width="8.6" height="8.6" fill="#ff1493"/>
<rect x="370.8" y="90.9" width="8.6" height="8.6" fill="#ff1493"/>
<rect x="374.1" y="72.3" width="8.6" height="8.6" fill="#ff1493"/>
<rect x="376.3" y="56.7" width="8.6" height="8.6" fill="#ff1493"/>
<rect x="381.3" y="39" width="8.6" height="8.6" fill="#ff1493"/>
<rect x="384.5" y="29.1" width="8.6" height="8.6" fill="#ff1493"/>
<rect x="396.4" y="47.1" width="8.6" height="8.6" fill="#ff1493"/>
<rect x="397.7" y="53.4" width="8.6" height="8.6" fill="#ff1493"/>
<rect x="399.6" y="64.9" width="8.6" height="8.6" fill="#ff1493"/>
<rect x="404" y="77.6" width="8.6" height="8.6" fill="#ff1493"/>
<polygon points="421.6,122.4 425.8,130.4 417.4,130.4" fill="none" stroke="#ff4dff" stroke-width="1"/><path d="M421.6 124V130.4" stroke="#ff4dff" stroke-width="0.8" fill="none" opacity="0.7"/>
<polygon points="425.4,123.3 429.6,131.3 421.2,131.3" fill="none" stroke="#ff4dff" stroke-width="1"/><path d="M425.4 124.9V131.3" stroke="#ff4dff" stroke-width="0.8" fill="none" opacity="0.7"/>
<polygon points="432.6,113.8 436.8,121.8 428.4,121.8" fill="none" stroke="#ff4dff" stroke-width="1"/><path d="M432.6 115.4V121.8" stroke="#ff4dff" stroke-width="0.8" fill="none" opacity="0.7"/>
<polygon points="434.5,117.6 438.7,125.6 430.3,125.6" fill="none" stroke="#ff4dff" stroke-width="1"/><path d="M434.5 119.2V125.6" stroke="#ff4dff" stroke-width="0.8" fill="none" opacity="0.7"/>
<polygon points="472.1,168.1 476.3,176.1 467.9,176.1" fill="none" stroke="#ff4dff" stroke-width="1"/><path d="M472.1 169.7V176.1" stroke="#ff4dff" stroke-width="0.8" fill="none" opacity="0.7"/>
<polygon points="477.3,187.6 481.5,195.6 473.1,195.6" fill="none" stroke="#ff4dff" stroke-width="1"/><path d="M477.3 189.2V195.6" stroke="#ff4dff" stroke-width="0.8" fill="none" opacity="0.7"/>
<polygon points="483.5,198 487.7,206 479.3,206" fill="none" stroke="#ff4dff" stroke-width="1"/><path d="M483.5 199.6V206" stroke="#ff4dff" stroke-width="0.8" fill="none" opacity="0.7"/>
<polygon points="489.5,213.3 493.7,221.3 485.3,221.3" fill="none" stroke="#ff4dff" stroke-width="1"/><path d="M489.5 214.9V221.3" stroke="#ff4dff" stroke-width="0.8" fill="none" opacity="0.7"/>
<polygon points="495.7,222.8 499.9,230.8 491.5,230.8" fill="none" stroke="#ff4dff" stroke-width="1"/><path d="M495.7 224.4V230.8" stroke="#ff4dff" stroke-width="0.8" fill="none" opacity="0.7"/>
<polygon points="494.2,226.6 498.4,234.6 490,234.6" fill="none" stroke="#ff4dff" stroke-width="1"/><path d="M494.2 228.2V234.6" stroke="#ff4dff" stroke-width="0.8" fill="none" opacity="0.7"/>
<polygon points="494.2,230 498.4,238 490,238" fill="none" stroke="#ff4dff" stroke-width="1"/><path d="M494.2 231.6V238" stroke="#ff4dff" stroke-width="0.8" fill="none" opacity="0.7"/>
<polygon points="498.5,234.7 502.7,242.7 494.3,242.7" fill="none" stroke="#ff4dff" stroke-width="1"/><path d="M498.5 236.3V242.7" stroke="#ff4dff" stroke-width="0.8" fill="none" opacity="0.7"/>
<polygon points="499.5,238.5 503.7,246.5 495.3,246.5" fill="none" stroke="#ff4dff" stroke-width="1"/><path d="M499.5 240.1V246.5" stroke="#ff4dff" stroke-width="0.8" fill="none" opacity="0.7"/>
<polygon points="498.5,242.8 502.7,250.8 494.3,250.8" fill="none" stroke="#ff4dff" stroke-width="1"/><path d="M498.5 244.4V250.8" stroke="#ff4dff" stroke-width="0.8" fill="none" opacity="0.7"/>
<polygon points="502.8,248 507,256 498.6,256" fill="none" stroke="#ff4dff" stroke-width="1"/><path d="M502.8 249.6V256" stroke="#ff4dff" stroke-width="0.8" fill="none" opacity="0.7"/>
<polygon points="499,237.9 503.2,245.9 494.8,245.9" fill="none" stroke="#ff4dff" stroke-width="1"/><path d="M499 239.5V245.9" stroke="#ff4dff" stroke-width="0.8" fill="none" opacity="0.7"/>
<polygon points="499,243.6 503.2,251.6 494.8,251.6" fill="none" stroke="#ff4dff" stroke-width="1"/><path d="M499 245.2V251.6" stroke="#ff4dff" stroke-width="0.8" fill="none" opacity="0.7"/>
<polygon points="505.2,248.4 509.4,256.4 501,256.4" fill="none" stroke="#ff4dff" stroke-width="1"/><path d="M505.2 250V256.4" stroke="#ff4dff" stroke-width="0.8" fill="none" opacity="0.7"/>
<polygon points="504.7,257.9 508.9,265.9 500.5,265.9" fill="none" stroke="#ff4dff" stroke-width="1"/><path d="M504.7 259.5V265.9" stroke="#ff4dff" stroke-width="0.8" fill="none" opacity="0.7"/>
<polygon points="505.2,260.7 509.4,268.7 501,268.7" fill="none" stroke="#ff4dff" stroke-width="1"/><path d="M505.2 262.3V268.7" stroke="#ff4dff" stroke-width="0.8" fill="none" opacity="0.7"/>
<polygon points="511.4,273.1 515.6,281.1 507.2,281.1" fill="none" stroke="#ff4dff" stroke-width="1"/><path d="M511.4 274.7V281.1" stroke="#ff4dff" stroke-width="0.8" fill="none" opacity="0.7"/>
<polygon points="393.2,41.5 397.8,46.1 393.2,50.7 388.6,46.1" fill="none" stroke="#ff5a5a" stroke-width="1"/><path d="M393.2 43.5V48.7M391.9 43.5H394.5M391.9 48.7H394.5" stroke="#ff5a5a" stroke-width="0.8" fill="none" opacity="0.7"/>
<polygon points="437.3,120.8 441.9,125.4 437.3,130 432.7,125.4" fill="none" stroke="#ff5a5a" stroke-width="1"/><path d="M437.3 122.8V128M436 122.8H438.6M436 128H438.6" stroke="#ff5a5a" stroke-width="0.8" fill="none" opacity="0.7"/>
<polygon points="442.1,108.5 446.7,113.1 442.1,117.7 437.5,113.1" fill="none" stroke="#ff5a5a" stroke-width="1"/><path d="M442.1 110.5V115.7M440.8 110.5H443.4M440.8 115.7H443.4" stroke="#ff5a5a" stroke-width="0.8" fill="none" opacity="0.7"/>
<polygon points="448.3,98 452.9,102.6 448.3,107.2 443.7,102.6" fill="none" stroke="#ff5a5a" stroke-width="1"/><path d="M448.3 100V105.2M447 100H449.6M447 105.2H449.6" stroke="#ff5a5a" stroke-width="0.8" fill="none" opacity="0.7"/>
<path d="M394.8 30H403.8M399.3 25.5V34.5M395.93 26.62L402.68 33.38M395.93 33.38L402.68 26.62" stroke="#ffb030" stroke-width="0.9" fill="none" opacity="0.85"/>
<path d="M418.6 148.6H427.6M423.1 144.1V153.1M419.73 145.22L426.48 151.97M419.73 151.97L426.48 145.22" stroke="#ffb030" stroke-width="0.9" fill="none" opacity="0.85"/>
<path d="M366.5 70H375.5M371 65.5V74.5M367.62 66.62L374.38 73.38M367.62 73.38L374.38 66.62" stroke="#ffb030" stroke-width="0.9" fill="none" opacity="0.85"/>
<path d="M392.5 27H401.5M397 22.5V31.5M393.62 23.62L400.38 30.38M393.62 30.38L400.38 23.62" stroke="#ffb030" stroke-width="0.9" fill="none" opacity="0.85"/>
<polygon points="390.8,26.8 395,18.8 386.6,18.8" fill="#8c00ff"/>
<polygon points="415,150.7 419.2,142.7 410.8,142.7" fill="#8c00ff"/>
<polygon points="439.2,156.4 443.4,148.4 435,148.4" fill="#8c00ff"/>
<polygon points="453,113.3 457.2,105.3 448.8,105.3" fill="#8c00ff"/>
<polygon points="505.7,274.4 509.9,266.4 501.5,266.4" fill="#8c00ff"/>
<circle cx="366.4" cy="157.5" r="4.45" fill="#000"/>
<circle cx="366.4" cy="160.4" r="4.45" fill="#000"/>
<circle cx="368" cy="138.5" r="4.45" fill="#000"/>
<circle cx="369.9" cy="114.7" r="4.45" fill="#000"/>
<circle cx="369.9" cy="117.1" r="4.45" fill="#000"/>
<circle cx="371.8" cy="97.1" r="4.45" fill="#000"/>
<circle cx="373.7" cy="80.9" r="4.45" fill="#000"/>
<circle cx="375.2" cy="65.7" r="4.45" fill="#000"/>
<circle cx="377" cy="54.9" r="4.45" fill="#000"/>
<circle cx="378.9" cy="45.2" r="4.45" fill="#000"/>
<circle cx="380.8" cy="37.6" r="4.45" fill="#000"/>
<circle cx="382.2" cy="31.9" r="4.45" fill="#000"/>
<circle cx="383.7" cy="28.5" r="4.45" fill="#000"/>
<circle cx="389.8" cy="25.7" r="4.45" fill="#000"/>
<circle cx="391.5" cy="28.5" r="4.45" fill="#000"/>
<circle cx="395.5" cy="36.6" r="4.45" fill="#000"/>
<circle cx="398.9" cy="46.6" r="4.45" fill="#000"/>
<circle cx="406" cy="73.8" r="4.45" fill="#000"/>
<circle cx="409.8" cy="94.2" r="4.45" fill="#000"/>
<circle cx="413.3" cy="119" r="4.45" fill="#000"/>
<circle cx="418.8" cy="141.1" r="4.45" fill="#000"/>
<circle cx="425.9" cy="142.1" r="4.45" fill="#000"/>
<circle cx="433" cy="136.3" r="4.45" fill="#000"/>
<circle cx="436.8" cy="132.5" r="4.45" fill="#000"/>
<circle cx="445.9" cy="123.5" r="4.45" fill="#000"/>
<circle cx="449.2" cy="118.3" r="4.45" fill="#000"/>
<circle cx="453" cy="115" r="4.45" fill="#000"/>
<circle cx="458.2" cy="118.3" r="4.45" fill="#000"/>
<circle cx="471.2" cy="156.9" r="4.45" fill="#000"/>
<circle cx="478.3" cy="178.7" r="4.45" fill="#000"/>
<circle cx="483.5" cy="194" r="4.45" fill="#000"/>
<circle cx="490.9" cy="212.6" r="4.45" fill="#000"/>
<circle cx="505.6" cy="247.2" r="4.45" fill="#000"/>
<circle cx="512.6" cy="262.6" r="4.45" fill="#000"/>
<circle cx="525.2" cy="288.5" r="4.45" fill="#000"/>
<circle cx="532.8" cy="302.1" r="4.45" fill="#000"/>
<circle cx="545.6" cy="332.8" r="4.45" fill="#000"/>
<circle cx="561.5" cy="359.2" r="4.45" fill="#000"/>
<circle cx="567.2" cy="358" r="4.45" fill="#000"/>
<circle cx="581.8" cy="378.9" r="4.45" fill="#000"/>
<line x1="467.2" y1="153.1" x2="565.3" y2="383" stroke="#ffff00" stroke-width="2"/>
<path d="M63.4 588.5V603.2M60 588.5H66.8M60 603.2H66.8" stroke="#ff1493" stroke-width="1" fill="none" opacity="0.6"/>
<path d="M110.9 484.8L119.9 493.8M110.9 493.8L119.9 484.8M115.4 487.7V490.9" stroke="#44ee44" stroke-width="1.0" fill="none"/>
<path d="M115.4 481L124.4 490M115.4 490L124.4 481M119.9 483.9V487.1" stroke="#44ee44" stroke-width="1.0" fill="none"/>
<path d="M112.2 489.9L121.2 498.9M112.2 498.9L121.2 489.9M116.7 492.8V496" stroke="#44ee44" stroke-width="1.0" fill="none"/>
<path d="M125.5 471.7L134.5 480.7M125.5 480.7L134.5 471.7M130 474.6V477.8" stroke="#44ee44" stroke-width="1.0" fill="none"/>
<path d="M123 475.5L132 484.5M123 484.5L132 475.5M127.5 478.4V481.6" stroke="#44ee44" stroke-width="1.0" fill="none"/>
<path d="M128.7 467.3L137.7 476.3M128.7 476.3L137.7 467.3M133.2 470.2V473.4" stroke="#44ee44" stroke-width="1.0" fill="none"/>
<path d="M110 488L119 497M110 497L119 488M114.5 490.9V494.1" stroke="#44ee44" stroke-width="1.0" fill="none"/>
<path d="M112.9 486.1L121.9 495.1M112.9 495.1L121.9 486.1M117.4 489V492.2" stroke="#44ee44" stroke-width="1.0" fill="none"/>
<path d="M118.6 479.5L127.6 488.5M118.6 488.5L127.6 479.5M123.1 482.4V485.6" stroke="#44ee44" stroke-width="1.0" fill="none"/>
<path d="M123.3 473.8L132.3 482.8M123.3 482.8L132.3 473.8M127.8 476.7V479.9" stroke="#44ee44" stroke-width="1.0" fill="none"/>
<path d="M127.1 470.9L136.1 479.9M127.1 479.9L136.1 470.9M131.6 473.8V477" stroke="#44ee44" stroke-width="1.0" fill="none"/>
<path d="M154.7 475.7L163.7 484.7M154.7 484.7L163.7 475.7M159.2 478.6V481.8" stroke="#44ee44" stroke-width="1.0" fill="none"/>
<path d="M157.5 489.9L166.5 498.9M157.5 498.9L166.5 489.9M162 492.8V496" stroke="#44ee44" stroke-width="1.0" fill="none"/>
<path d="M159.8 488.6L168.8 497.6M159.8 497.6L168.8 488.6M164.3 491.5V494.7" stroke="#44ee44" stroke-width="1.0" fill="none"/>
<path d="M166.4 502.4L175.4 511.4M166.4 511.4L175.4 502.4M170.9 505.3V508.5" stroke="#44ee44" stroke-width="1.0" fill="none"/>
<path d="M178.8 516.6L187.8 525.6M178.8 525.6L187.8 516.6M183.3 519.5V522.7" stroke="#44ee44" stroke-width="1.0" fill="none"/>
<path d="M181.6 521.4L190.6 530.4M181.6 530.4L190.6 521.4M186.1 524.3V527.5" stroke="#44ee44" stroke-width="1.0" fill="none"/>
<path d="M184.5 526.1L193.5 535.1M184.5 535.1L193.5 526.1M189 529V532.2" stroke="#44ee44" stroke-width="1.0" fill="none"/>
<path d="M186.4 531.8L195.4 540.8M186.4 540.8L195.4 531.8M190.9 534.7V537.9" stroke="#44ee44" stroke-width="1.0" fill="none"/>
<path d="M186 529.3L195 538.3M186 538.3L195 529.3M190.5 532.2V535.4" stroke="#44ee44" stroke-width="1.0" fill="none"/>
<path d="M196.4 547.4L205.4 556.4M196.4 556.4L205.4 547.4M200.9 550.3V553.5" stroke="#44ee44" stroke-width="1.0" fill="none"/>
<path d="M222.1 590.9L231.1 599.9M222.1 599.9L231.1 590.9M226.6 593.8V597" stroke="#44ee44" stroke-width="1.0" fill="none"/>
<path d="M236.9 616.1L245.9 625.1M236.9 625.1L245.9 616.1M241.4 619V622.2" stroke="#44ee44" stroke-width="1.0" fill="none"/>
<path d="M264.3 662.3L273.3 671.3M264.3 671.3L273.3 662.3M268.8 665.2V668.4" stroke="#44ee44" stroke-width="1.0" fill="none"/>
<path d="M266.6 668L275.6 677M266.6 677L275.6 668M271.1 670.9V674.1" stroke="#44ee44" stroke-width="1.0" fill="none"/>
<path d="M270 671.8L279 680.8M270 680.8L279 671.8M274.5 674.7V677.9" stroke="#44ee44" stroke-width="1.0" fill="none"/>
<path d="M273.8 669.9L282.8 678.9M273.8 678.9L282.8 669.9M278.3 672.8V676" stroke="#44ee44" stroke-width="1.0" fill="none"/>
<path d="M283.3 675.6L292.3 684.6M283.3 684.6L292.3 675.6M287.8 678.5V681.7" stroke="#44ee44" stroke-width="1.0" fill="none"/>
<polygon points="94.2,456.1 98.4,464.1 90,464.1" fill="#a0522d"/>
<polygon points="99.3,457.7 103.5,465.7 95.1,465.7" fill="#a0522d"/>
<polygon points="112.9,462.2 117.1,470.2 108.7,470.2" fill="#a0522d"/>
<polygon points="119.2,458.4 123.4,466.4 115,466.4" fill="#a0522d"/>
<polygon points="104,464.4 108.2,472.4 99.8,472.4" fill="#a0522d"/>
<polygon points="144.6,452.3 148.8,460.3 140.4,460.3" fill="#a0522d"/>
<polygon points="119.3,457 123.5,465 115.1,465" fill="#a0522d"/>
<polygon points="93.8,456.2 98,464.2 89.6,464.2" fill="#a0522d"/>
<polygon points="99.1,458.1 103.3,466.1 94.9,466.1" fill="#a0522d"/>
<polygon points="106.9,464.8 111.1,472.8 102.7,472.8" fill="#a0522d"/>
<polygon points="110.5,463.3 114.7,471.3 106.3,471.3" fill="#a0522d"/>
<polygon points="112.6,461.9 116.8,469.9 108.4,469.9" fill="#a0522d"/>
<polygon points="144.9,453.4 149.1,461.4 140.7,461.4" fill="#a0522d"/>
<polygon points="153.5,472.4 157.7,480.4 149.3,480.4" fill="#a0522d"/>
<polygon points="177.6,524.7 181.8,532.7 173.4,532.7" fill="#a0522d"/>
<polygon points="181.4,537.7 185.6,545.7 177.2,545.7" fill="#a0522d"/>
<polygon points="203.3,577.3 207.5,585.3 199.1,585.3" fill="#a0522d"/>
<polygon points="214.5,581.8 218.7,589.8 210.3,589.8" fill="#a0522d"/>
<polygon points="228.1,593.3 232.3,601.3 223.9,601.3" fill="#a0522d"/>
<polygon points="104,475.6 105.29,479.12 109.04,479.26 106.09,481.58 107.12,485.19 104,483.1 100.88,485.19 101.91,481.58 98.96,479.26 102.71,479.12" fill="#0000ff"/>
<polygon points="107.8,478.8 109.09,482.32 112.84,482.46 109.89,484.78 110.92,488.39 107.8,486.3 104.68,488.39 105.71,484.78 102.76,482.46 106.51,482.32" fill="#0000ff"/>
<polygon points="111.6,480.7 112.89,484.22 116.64,484.36 113.69,486.68 114.72,490.29 111.6,488.2 108.48,490.29 109.51,486.68 106.56,484.36 110.31,484.22" fill="#0000ff"/>
<polygon points="114.8,476.9 116.09,480.42 119.84,480.56 116.89,482.88 117.92,486.49 114.8,484.4 111.68,486.49 112.71,482.88 109.76,480.56 113.51,480.42" fill="#0000ff"/>
<polygon points="116.7,472.5 117.99,476.02 121.74,476.16 118.79,478.48 119.82,482.09 116.7,480 113.58,482.09 114.61,478.48 111.66,476.16 115.41,476.02" fill="#0000ff"/>
<polygon points="105.9,482.6 107.19,486.12 110.94,486.26 107.99,488.58 109.02,492.19 105.9,490.1 102.78,492.19 103.81,488.58 100.86,486.26 104.61,486.12" fill="#0000ff"/>
<polygon points="119.2,470.6 120.49,474.12 124.24,474.26 121.29,476.58 122.32,480.19 119.2,478.1 116.08,480.19 117.11,476.58 114.16,474.26 117.91,474.12" fill="#0000ff"/>
<polygon points="135.7,449.9 136.99,453.42 140.74,453.56 137.79,455.88 138.82,459.49 135.7,457.4 132.58,459.49 133.61,455.88 130.66,453.56 134.41,453.42" fill="#0000ff"/>
<polygon points="133.8,457.5 135.09,461.02 138.84,461.16 135.89,463.48 136.92,467.09 133.8,465 130.68,467.09 131.71,463.48 128.76,461.16 132.51,461.02" fill="#0000ff"/>
<polygon points="142.1,461.3 143.39,464.82 147.14,464.96 144.19,467.28 145.22,470.89 142.1,468.8 138.98,470.89 140.01,467.28 137.06,464.96 140.81,464.82" fill="#0000ff"/>
<polygon points="144.6,464.5 145.89,468.02 149.64,468.16 146.69,470.48 147.72,474.09 144.6,472 141.48,474.09 142.51,470.48 139.56,468.16 143.31,468.02" fill="#0000ff"/>
<polygon points="149.7,471.4 150.99,474.92 154.74,475.06 151.79,477.38 152.82,480.99 149.7,478.9 146.58,480.99 147.61,477.38 144.66,475.06 148.41,474.92" fill="#0000ff"/>
<polygon points="152.2,475.2 153.49,478.72 157.24,478.86 154.29,481.18 155.32,484.79 152.2,482.7 149.08,484.79 150.11,481.18 147.16,478.86 150.91,478.72" fill="#0000ff"/>
<polygon points="119.3,470.8 120.59,474.32 124.34,474.46 121.39,476.78 122.42,480.39 119.3,478.3 116.18,480.39 117.21,476.78 114.26,474.46 118.01,474.32" fill="#0000ff"/>
<polygon points="123.1,463.8 124.39,467.32 128.14,467.46 125.19,469.78 126.22,473.39 123.1,471.3 119.98,473.39 121.01,469.78 118.06,467.46 121.81,467.32" fill="#0000ff"/>
<polygon points="63.9,601.3 65.19,604.82 68.94,604.96 65.99,607.28 67.02,610.89 63.9,608.8 60.78,610.89 61.81,607.28 58.86,604.96 62.61,604.82" fill="#0000ff"/>
<polygon points="67.7,535.4 68.99,538.92 72.74,539.06 69.79,541.38 70.82,544.99 67.7,542.9 64.58,544.99 65.61,541.38 62.66,539.06 66.41,538.92" fill="#0000ff"/>
<polygon points="69.1,512.5 70.39,516.02 74.14,516.16 71.19,518.48 72.22,522.09 69.1,520 65.98,522.09 67.01,518.48 64.06,516.16 67.81,516.02" fill="#0000ff"/>
<polygon points="71.8,496.6 73.09,500.12 76.84,500.26 73.89,502.58 74.92,506.19 71.8,504.1 68.68,506.19 69.71,502.58 66.76,500.26 70.51,500.12" fill="#0000ff"/>
<polygon points="77.7,465.4 78.99,468.92 82.74,469.06 79.79,471.38 80.82,474.99 77.7,472.9 74.58,474.99 75.61,471.38 72.66,469.06 76.41,468.92" fill="#0000ff"/>
<polygon points="107.5,479.2 108.79,482.72 112.54,482.86 109.59,485.18 110.62,488.79 107.5,486.7 104.38,488.79 105.41,485.18 102.46,482.86 106.21,482.72" fill="#0000ff"/>
<polygon points="117.4,472.5 118.69,476.02 122.44,476.16 119.49,478.48 120.52,482.09 117.4,480 114.28,482.09 115.31,478.48 112.36,476.16 116.11,476.02" fill="#0000ff"/>
<polygon points="135.4,453.5 136.69,457.02 140.44,457.16 137.49,459.48 138.52,463.09 135.4,461 132.28,463.09 133.31,459.48 130.36,457.16 134.11,457.02" fill="#0000ff"/>
<polygon points="138.3,462.1 139.59,465.62 143.34,465.76 140.39,468.08 141.42,471.69 138.3,469.6 135.18,471.69 136.21,468.08 133.26,465.76 137.01,465.62" fill="#0000ff"/>
<polygon points="149.7,474.4 150.99,477.92 154.74,478.06 151.79,480.38 152.82,483.99 149.7,481.9 146.58,483.99 147.61,480.38 144.66,478.06 148.41,477.92" fill="#0000ff"/>
<polygon points="151.6,480.1 152.89,483.62 156.64,483.76 153.69,486.08 154.72,489.69 151.6,487.6 148.48,489.69 149.51,486.08 146.56,483.76 150.31,483.62" fill="#0000ff"/>
<polygon points="153.5,485.8 154.79,489.32 158.54,489.46 155.59,491.78 156.62,495.39 153.5,493.3 150.38,495.39 151.41,491.78 148.46,489.46 152.21,489.32" fill="#0000ff"/>
<polygon points="155.4,490.6 156.69,494.12 160.44,494.26 157.49,496.58 158.52,500.19 155.4,498.1 152.28,500.19 153.31,496.58 150.36,494.26 154.11,494.12" fill="#0000ff"/>
<polygon points="158.2,496.3 159.49,499.82 163.24,499.96 160.29,502.28 161.32,505.89 158.2,503.8 155.08,505.89 156.11,502.28 153.16,499.96 156.91,499.82" fill="#0000ff"/>
<polygon points="152.9,482.1 154.19,485.62 157.94,485.76 154.99,488.08 156.02,491.69 152.9,489.6 149.78,491.69 150.81,488.08 147.86,485.76 151.61,485.62" fill="#0000ff"/>
<polygon points="154.8,487.8 156.09,491.32 159.84,491.46 156.89,493.78 157.92,497.39 154.8,495.3 151.68,497.39 152.71,493.78 149.76,491.46 153.51,491.32" fill="#0000ff"/>
<polygon points="156.7,493.5 157.99,497.02 161.74,497.16 158.79,499.48 159.82,503.09 156.7,501 153.58,503.09 154.61,499.48 151.66,497.16 155.41,497.02" fill="#0000ff"/>
<polygon points="159.5,499.2 160.79,502.72 164.54,502.86 161.59,505.18 162.62,508.79 159.5,506.7 156.38,508.79 157.41,505.18 154.46,502.86 158.21,502.72" fill="#0000ff"/>
<polygon points="162.4,504 163.69,507.52 167.44,507.66 164.49,509.98 165.52,513.59 162.4,511.5 159.28,513.59 160.31,509.98 157.36,507.66 161.11,507.52" fill="#0000ff"/>
<polygon points="171.9,523 173.19,526.52 176.94,526.66 173.99,528.98 175.02,532.59 171.9,530.5 168.78,532.59 169.81,528.98 166.86,526.66 170.61,526.52" fill="#0000ff"/>
<rect x="59.1" y="591.3" width="8.6" height="8.6" fill="#ff1493"/>
<rect x="62.4" y="542.5" width="8.6" height="8.6" fill="#ff1493"/>
<rect x="64.3" y="519.2" width="8.6" height="8.6" fill="#ff1493"/>
<rect x="68.1" y="486.3" width="8.6" height="8.6" fill="#ff1493"/>
<rect x="69.6" y="475.9" width="8.6" height="8.6" fill="#ff1493"/>
<rect x="76.2" y="459.7" width="8.6" height="8.6" fill="#ff1493"/>
<rect x="88.3" y="472.3" width="8.6" height="8.6" fill="#ff1493"/>
<rect x="88.9" y="475.5" width="8.6" height="8.6" fill="#ff1493"/>
<rect x="90.2" y="479.9" width="8.6" height="8.6" fill="#ff1493"/>
<rect x="93.4" y="481.2" width="8.6" height="8.6" fill="#ff1493"/>
<rect x="96.2" y="487.3" width="8.6" height="8.6" fill="#ff1493"/>
<rect x="97.2" y="488.8" width="8.6" height="8.6" fill="#ff1493"/>
<polygon points="124.3,447.7 128.5,455.7 120.1,455.7" fill="none" stroke="#ff4dff" stroke-width="1"/><path d="M124.3 449.3V455.7" stroke="#ff4dff" stroke-width="0.8" fill="none" opacity="0.7"/>
<polygon points="129,447.5 133.2,455.5 124.8,455.5" fill="none" stroke="#ff4dff" stroke-width="1"/><path d="M129 449.1V455.5" stroke="#ff4dff" stroke-width="0.8" fill="none" opacity="0.7"/>
<polygon points="126,452 130.2,460 121.8,460" fill="none" stroke="#ff4dff" stroke-width="1"/><path d="M126 453.6V460" stroke="#ff4dff" stroke-width="0.8" fill="none" opacity="0.7"/>
<polygon points="122,452 126.2,460 117.8,460" fill="none" stroke="#ff4dff" stroke-width="1"/><path d="M122 453.6V460" stroke="#ff4dff" stroke-width="0.8" fill="none" opacity="0.7"/>
<polygon points="131,451 135.2,459 126.8,459" fill="none" stroke="#ff4dff" stroke-width="1"/><path d="M131 452.6V459" stroke="#ff4dff" stroke-width="0.8" fill="none" opacity="0.7"/>
<polygon points="119.3,453.4 123.5,461.4 115.1,461.4" fill="none" stroke="#ff4dff" stroke-width="1"/><path d="M119.3 455V461.4" stroke="#ff4dff" stroke-width="0.8" fill="none" opacity="0.7"/>
<polygon points="124,450.5 128.2,458.5 119.8,458.5" fill="none" stroke="#ff4dff" stroke-width="1"/><path d="M124 452.1V458.5" stroke="#ff4dff" stroke-width="0.8" fill="none" opacity="0.7"/>
<polygon points="126.9,446.7 131.1,454.7 122.7,454.7" fill="none" stroke="#ff4dff" stroke-width="1"/><path d="M126.9 448.3V454.7" stroke="#ff4dff" stroke-width="0.8" fill="none" opacity="0.7"/>
<polygon points="129.2,449.6 133.4,457.6 125,457.6" fill="none" stroke="#ff4dff" stroke-width="1"/><path d="M129.2 451.2V457.6" stroke="#ff4dff" stroke-width="0.8" fill="none" opacity="0.7"/>
<polygon points="171.9,517.1 176.1,525.1 167.7,525.1" fill="none" stroke="#ff4dff" stroke-width="1"/><path d="M171.9 518.7V525.1" stroke="#ff4dff" stroke-width="0.8" fill="none" opacity="0.7"/>
<polygon points="176.6,529.5 180.8,537.5 172.4,537.5" fill="none" stroke="#ff4dff" stroke-width="1"/><path d="M176.6 531.1V537.5" stroke="#ff4dff" stroke-width="0.8" fill="none" opacity="0.7"/>
<polygon points="189.5,544.5 193.7,552.5 185.3,552.5" fill="none" stroke="#ff4dff" stroke-width="1"/><path d="M189.5 546.1V552.5" stroke="#ff4dff" stroke-width="0.8" fill="none" opacity="0.7"/>
<polygon points="192.4,553.6 196.6,561.6 188.2,561.6" fill="none" stroke="#ff4dff" stroke-width="1"/><path d="M192.4 555.2V561.6" stroke="#ff4dff" stroke-width="0.8" fill="none" opacity="0.7"/>
<polygon points="196.6,561.2 200.8,569.2 192.4,569.2" fill="none" stroke="#ff4dff" stroke-width="1"/><path d="M196.6 562.8V569.2" stroke="#ff4dff" stroke-width="0.8" fill="none" opacity="0.7"/>
<polygon points="206.1,577.3 210.3,585.3 201.9,585.3" fill="none" stroke="#ff4dff" stroke-width="1"/><path d="M206.1 578.9V585.3" stroke="#ff4dff" stroke-width="0.8" fill="none" opacity="0.7"/>
<polygon points="87.5,468.2 92.1,472.8 87.5,477.4 82.9,472.8" fill="none" stroke="#ff5a5a" stroke-width="1"/><path d="M87.5 470.2V475.4M86.2 470.2H88.8M86.2 475.4H88.8" stroke="#ff5a5a" stroke-width="0.8" fill="none" opacity="0.7"/>
<polygon points="89.4,477.1 94,481.7 89.4,486.3 84.8,481.7" fill="none" stroke="#ff5a5a" stroke-width="1"/><path d="M89.4 479.1V484.3M88.1 479.1H90.7M88.1 484.3H90.7" stroke="#ff5a5a" stroke-width="0.8" fill="none" opacity="0.7"/>
<polygon points="121.8,467.6 126.4,472.2 121.8,476.8 117.2,472.2" fill="none" stroke="#ff5a5a" stroke-width="1"/><path d="M121.8 469.6V474.8M120.5 469.6H123.1M120.5 474.8H123.1" stroke="#ff5a5a" stroke-width="0.8" fill="none" opacity="0.7"/>
<polygon points="124.3,467.8 128.9,472.4 124.3,477 119.7,472.4" fill="none" stroke="#ff5a5a" stroke-width="1"/><path d="M124.3 469.8V475M123 469.8H125.6M123 475H125.6" stroke="#ff5a5a" stroke-width="0.8" fill="none" opacity="0.7"/>
<polygon points="128.8,464 133.4,468.6 128.8,473.2 124.2,468.6" fill="none" stroke="#ff5a5a" stroke-width="1"/><path d="M128.8 466V471.2M127.5 466H130.1M127.5 471.2H130.1" stroke="#ff5a5a" stroke-width="0.8" fill="none" opacity="0.7"/>
<polygon points="132,461.5 136.6,466.1 132,470.7 127.4,466.1" fill="none" stroke="#ff5a5a" stroke-width="1"/><path d="M132 463.5V468.7M130.7 463.5H133.3M130.7 468.7H133.3" stroke="#ff5a5a" stroke-width="0.8" fill="none" opacity="0.7"/>
<polygon points="138.3,467.2 142.9,471.8 138.3,476.4 133.7,471.8" fill="none" stroke="#ff5a5a" stroke-width="1"/><path d="M138.3 469.2V474.4M137 469.2H139.6M137 474.4H139.6" stroke="#ff5a5a" stroke-width="0.8" fill="none" opacity="0.7"/>
<polygon points="141.5,470.4 146.1,475 141.5,479.6 136.9,475" fill="none" stroke="#ff5a5a" stroke-width="1"/><path d="M141.5 472.4V477.6M140.2 472.4H142.8M140.2 477.6H142.8" stroke="#ff5a5a" stroke-width="0.8" fill="none" opacity="0.7"/>
<polygon points="144.6,473.5 149.2,478.1 144.6,482.7 140,478.1" fill="none" stroke="#ff5a5a" stroke-width="1"/><path d="M144.6 475.5V480.7M143.3 475.5H145.9M143.3 480.7H145.9" stroke="#ff5a5a" stroke-width="0.8" fill="none" opacity="0.7"/>
<polygon points="70.5,502.8 75.1,507.4 70.5,512 65.9,507.4" fill="none" stroke="#ff5a5a" stroke-width="1"/><path d="M70.5 504.8V510M69.2 504.8H71.8M69.2 510H71.8" stroke="#ff5a5a" stroke-width="0.8" fill="none" opacity="0.7"/>
<polygon points="87.2,471.8 91.8,476.4 87.2,481 82.6,476.4" fill="none" stroke="#ff5a5a" stroke-width="1"/><path d="M87.2 473.8V479M85.9 473.8H88.5M85.9 479H88.5" stroke="#ff5a5a" stroke-width="0.8" fill="none" opacity="0.7"/>
<polygon points="90,478.4 94.6,483 90,487.6 85.4,483" fill="none" stroke="#ff5a5a" stroke-width="1"/><path d="M90 480.4V485.6M88.7 480.4H91.3M88.7 485.6H91.3" stroke="#ff5a5a" stroke-width="0.8" fill="none" opacity="0.7"/>
<polygon points="121.2,467.5 125.8,472.1 121.2,476.7 116.6,472.1" fill="none" stroke="#ff5a5a" stroke-width="1"/><path d="M121.2 469.5V474.7M119.9 469.5H122.5M119.9 474.7H122.5" stroke="#ff5a5a" stroke-width="0.8" fill="none" opacity="0.7"/>
<polygon points="127.8,465.1 132.4,469.7 127.8,474.3 123.2,469.7" fill="none" stroke="#ff5a5a" stroke-width="1"/><path d="M127.8 467.1V472.3M126.5 467.1H129.1M126.5 472.3H129.1" stroke="#ff5a5a" stroke-width="0.8" fill="none" opacity="0.7"/>
<polygon points="132.6,463.2 137.2,467.8 132.6,472.4 128,467.8" fill="none" stroke="#ff5a5a" stroke-width="1"/><path d="M132.6 465.2V470.4M131.3 465.2H133.9M131.3 470.4H133.9" stroke="#ff5a5a" stroke-width="0.8" fill="none" opacity="0.7"/>
<polygon points="137.3,468.9 141.9,473.5 137.3,478.1 132.7,473.5" fill="none" stroke="#ff5a5a" stroke-width="1"/><path d="M137.3 470.9V476.1M136 470.9H138.6M136 476.1H138.6" stroke="#ff5a5a" stroke-width="0.8" fill="none" opacity="0.7"/>
<polygon points="141.1,471.8 145.7,476.4 141.1,481 136.5,476.4" fill="none" stroke="#ff5a5a" stroke-width="1"/><path d="M141.1 473.8V479M139.8 473.8H142.4M139.8 479H142.4" stroke="#ff5a5a" stroke-width="0.8" fill="none" opacity="0.7"/>
<polygon points="143,474.6 147.6,479.2 143,483.8 138.4,479.2" fill="none" stroke="#ff5a5a" stroke-width="1"/><path d="M143 476.6V481.8M141.7 476.6H144.3M141.7 481.8H144.3" stroke="#ff5a5a" stroke-width="0.8" fill="none" opacity="0.7"/>
<path d="M61.5 484H70.5M66 479.5V488.5M62.62 480.62L69.38 487.38M62.62 487.38L69.38 480.62" stroke="#ffb030" stroke-width="0.9" fill="none" opacity="0.85"/>
<path d="M65.5 478H74.5M70 473.5V482.5M66.62 474.62L73.38 481.38M66.62 481.38L73.38 474.62" stroke="#ffb030" stroke-width="0.9" fill="none" opacity="0.85"/>
<polygon points="132.6,470.1 136.8,462.1 128.4,462.1" fill="#8c00ff"/>
<polygon points="136.4,469.5 140.6,461.5 132.2,461.5" fill="#8c00ff"/>
<polygon points="147.8,479 152,471 143.6,471" fill="#8c00ff"/>
<polygon points="107.8,499.6 112,491.6 103.6,491.6" fill="#8c00ff"/>
<polygon points="107.9,499.4 112.1,491.4 103.7,491.4" fill="#8c00ff"/>
<polygon points="133.5,472.8 137.7,464.8 129.3,464.8" fill="#8c00ff"/>
<polygon points="137.3,469 141.5,461 133.1,461" fill="#8c00ff"/>
<polygon points="146.8,479.4 151,471.4 142.6,471.4" fill="#8c00ff"/>
<polygon points="163.3,516.6 167.5,508.6 159.1,508.6" fill="#8c00ff"/>
<polygon points="199,583.4 203.2,575.4 194.8,575.4" fill="#8c00ff"/>
<circle cx="60.4" cy="578.3" r="4.45" fill="#000"/>
<circle cx="60.6" cy="572.8" r="4.45" fill="#000"/>
<circle cx="62" cy="552.2" r="4.45" fill="#000"/>
<circle cx="63.4" cy="533" r="4.45" fill="#000"/>
<circle cx="63.9" cy="529.7" r="4.45" fill="#000"/>
<circle cx="65.8" cy="513.1" r="4.45" fill="#000"/>
<circle cx="67.5" cy="497.5" r="4.45" fill="#000"/>
<circle cx="69.1" cy="484.7" r="4.45" fill="#000"/>
<circle cx="71" cy="473.7" r="4.45" fill="#000"/>
<circle cx="72.7" cy="465.9" r="4.45" fill="#000"/>
<circle cx="74.6" cy="459.3" r="4.45" fill="#000"/>
<circle cx="76.2" cy="455.5" r="4.45" fill="#000"/>
<circle cx="78.6" cy="453.6" r="4.45" fill="#000"/>
<circle cx="84.3" cy="455.5" r="4.45" fill="#000"/>
<circle cx="85.7" cy="459.3" r="4.45" fill="#000"/>
<circle cx="89.5" cy="466.4" r="4.45" fill="#000"/>
<circle cx="92.9" cy="470.7" r="4.45" fill="#000"/>
<circle cx="99.1" cy="473.5" r="4.45" fill="#000"/>
<circle cx="103.3" cy="474.5" r="4.45" fill="#000"/>
<circle cx="107" cy="476.6" r="4.45" fill="#000"/>
<circle cx="113.1" cy="473" r="4.45" fill="#000"/>
<circle cx="120.2" cy="466.9" r="4.45" fill="#000"/>
<circle cx="126.4" cy="461.2" r="4.45" fill="#000"/>
<circle cx="131.1" cy="459.3" r="4.45" fill="#000"/>
<circle cx="140.2" cy="458.3" r="4.45" fill="#000"/>
<circle cx="144.4" cy="460.7" r="4.45" fill="#000"/>
<circle cx="147.8" cy="463.5" r="4.45" fill="#000"/>
<circle cx="152.5" cy="471.1" r="4.45" fill="#000"/>
<circle cx="165.2" cy="502.1" r="4.45" fill="#000"/>
<circle cx="172.3" cy="513.5" r="4.45" fill="#000"/>
<circle cx="177.6" cy="522.5" r="4.45" fill="#000"/>
<circle cx="184.9" cy="535.8" r="4.45" fill="#000"/>
<circle cx="200" cy="558" r="4.45" fill="#000"/>
<circle cx="207.1" cy="566.1" r="4.45" fill="#000"/>
<circle cx="219.5" cy="589" r="4.45" fill="#000"/>
<circle cx="226.6" cy="600.2" r="4.45" fill="#000"/>
<circle cx="239.5" cy="618.3" r="4.45" fill="#000"/>
<circle cx="255.6" cy="635" r="4.45" fill="#000"/>
<circle cx="272.1" cy="657.8" r="4.45" fill="#000"/>
<circle cx="275.4" cy="664.9" r="4.45" fill="#000"/>
<circle cx="284.6" cy="680.3" r="4.45" fill="#000"/>
<circle cx="297.4" cy="699.8" r="4.45" fill="#000"/>
<circle cx="306.3" cy="710.2" r="4.45" fill="#000"/>
<circle cx="315.4" cy="725.9" r="4.45" fill="#000"/>
<line x1="161.4" y1="496.9" x2="314.7" y2="737.5" stroke="#ffff00" stroke-width="2"/>
<path d="M369.4 603.9V611.5M366 603.9H372.8M366 611.5H372.8" stroke="#ff1493" stroke-width="1" fill="none" opacity="0.6"/>
<path d="M407.2 498V505M403.8 498H410.6M403.8 505H410.6" stroke="#ff1493" stroke-width="1" fill="none" opacity="0.6"/>
<path d="M481.4 534.2V543.7M478 534.2H484.8M478 543.7H484.8" stroke="#a0522d" stroke-width="1" fill="none" opacity="0.6"/>
<path d="M487.5 537.5V549.4M484.1 537.5H490.9M484.1 549.4H490.9" stroke="#a0522d" stroke-width="1" fill="none" opacity="0.6"/>
<path d="M509 565.2V583.3M505.6 565.2H512.4M505.6 583.3H512.4" stroke="#a0522d" stroke-width="1" fill="none" opacity="0.6"/>
<polygon points="400.3,461.4 404.5,469.4 396.1,469.4" fill="#a0522d"/>
<polygon points="405.5,467.6 409.7,475.6 401.3,475.6" fill="#a0522d"/>
<polygon points="416,471.4 420.2,479.4 411.8,479.4" fill="#a0522d"/>
<polygon points="418.1,473.8 422.3,481.8 413.9,481.8" fill="#a0522d"/>
<polygon points="419.5,466.7 423.7,474.7 415.3,474.7" fill="#a0522d"/>
<polygon points="425.7,462.4 429.9,470.4 421.5,470.4" fill="#a0522d"/>
<polygon points="432.3,467.2 436.5,475.2 428.1,475.2" fill="#a0522d"/>
<polygon points="450.9,469 455.1,477 446.7,477" fill="#a0522d"/>
<polygon points="458.5,483.8 462.7,491.8 454.3,491.8" fill="#a0522d"/>
<polygon points="481.4,539.7 485.6,547.7 477.2,547.7" fill="#a0522d"/>
<polygon points="487.5,545.4 491.7,553.4 483.3,553.4" fill="#a0522d"/>
<polygon points="509,579.3 513.2,587.3 504.8,587.3" fill="#a0522d"/>
<polygon points="369.9,614.8 371.19,618.32 374.94,618.46 371.99,620.78 373.02,624.39 369.9,622.3 366.78,624.39 367.81,620.78 364.86,618.46 368.61,618.32" fill="#0000ff"/>
<polygon points="375.6,525.8 376.89,529.32 380.64,529.46 377.69,531.78 378.72,535.39 375.6,533.3 372.48,535.39 373.51,531.78 370.56,529.46 374.31,529.32" fill="#0000ff"/>
<polygon points="414.1,490.6 415.39,494.12 419.14,494.26 416.19,496.58 417.22,500.19 414.1,498.1 410.98,500.19 412.01,496.58 409.06,494.26 412.81,494.12" fill="#0000ff"/>
<polygon points="421.4,490.1 422.69,493.62 426.44,493.76 423.49,496.08 424.52,499.69 421.4,497.6 418.28,499.69 419.31,496.08 416.36,493.76 420.11,493.62" fill="#0000ff"/>
<polygon points="425.2,485.4 426.49,488.92 430.24,489.06 427.29,491.38 428.32,494.99 425.2,492.9 422.08,494.99 423.11,491.38 420.16,489.06 423.91,488.92" fill="#0000ff"/>
<polygon points="432.8,478.7 434.09,482.22 437.84,482.36 434.89,484.68 435.92,488.29 432.8,486.2 429.68,488.29 430.71,484.68 427.76,482.36 431.51,482.22" fill="#0000ff"/>
<polygon points="440.4,474.9 441.69,478.42 445.44,478.56 442.49,480.88 443.52,484.49 440.4,482.4 437.28,484.49 438.31,480.88 435.36,478.56 439.11,478.42" fill="#0000ff"/>
<polygon points="449.9,485.4 451.19,488.92 454.94,489.06 451.99,491.38 453.02,494.99 449.9,492.9 446.78,494.99 447.81,491.38 444.86,489.06 448.61,488.92" fill="#0000ff"/>
<polygon points="451.8,489.2 453.09,492.72 456.84,492.86 453.89,495.18 454.92,498.79 451.8,496.7 448.68,498.79 449.71,495.18 446.76,492.86 450.51,492.72" fill="#0000ff"/>
<polygon points="456.6,499.2 457.89,502.72 461.64,502.86 458.69,505.18 459.72,508.79 456.6,506.7 453.48,508.79 454.51,505.18 451.56,502.86 455.31,502.72" fill="#0000ff"/>
<polygon points="458.5,505.5 459.79,509.02 463.54,509.16 460.59,511.48 461.62,515.09 458.5,513 455.38,515.09 456.41,511.48 453.46,509.16 457.21,509.02" fill="#0000ff"/>
<polygon points="460.5,512.3 461.79,515.82 465.54,515.96 462.59,518.28 463.62,521.89 460.5,519.8 457.38,521.89 458.41,518.28 455.46,515.96 459.21,515.82" fill="#0000ff"/>
<polygon points="462.4,517.1 463.69,520.62 467.44,520.76 464.49,523.08 465.52,526.69 462.4,524.6 459.28,526.69 460.31,523.08 457.36,520.76 461.11,520.62" fill="#0000ff"/>
<polygon points="464.3,521.8 465.59,525.32 469.34,525.46 466.39,527.78 467.42,531.39 464.3,529.3 461.18,531.39 462.21,527.78 459.26,525.46 463.01,525.32" fill="#0000ff"/>
<polygon points="466.2,525.6 467.49,529.12 471.24,529.26 468.29,531.58 469.32,535.19 466.2,533.1 463.08,535.19 464.11,531.58 461.16,529.26 464.91,529.12" fill="#0000ff"/>
<polygon points="468.5,529.4 469.79,532.92 473.54,533.06 470.59,535.38 471.62,538.99 468.5,536.9 465.38,538.99 466.41,535.38 463.46,533.06 467.21,532.92" fill="#0000ff"/>
<polygon points="477.6,549.4 478.89,552.92 482.64,553.06 479.69,555.38 480.72,558.99 477.6,556.9 474.48,558.99 475.51,555.38 472.56,553.06 476.31,552.92" fill="#0000ff"/>
<rect x="365.1" y="607.2" width="8.6" height="8.6" fill="#ff1493"/>
<rect x="370.3" y="531.1" width="8.6" height="8.6" fill="#ff1493"/>
<rect x="368.5" y="553.3" width="8.6" height="8.6" fill="#ff1493"/>
<rect x="374.1" y="509.7" width="8.6" height="8.6" fill="#ff1493"/>
<rect x="383.2" y="477.3" width="8.6" height="8.6" fill="#ff1493"/>
<rect x="384.1" y="466.4" width="8.6" height="8.6" fill="#ff1493"/>
<rect x="395.5" y="476.8" width="8.6" height="8.6" fill="#ff1493"/>
<rect x="399.3" y="472.1" width="8.6" height="8.6" fill="#ff1493"/>
<rect x="402.9" y="493.7" width="8.6" height="8.6" fill="#ff1493"/>
<polygon points="423.3,471 427.5,479 419.1,479" fill="none" stroke="#ff4dff" stroke-width="1"/><path d="M423.3 472.6V479" stroke="#ff4dff" stroke-width="0.8" fill="none" opacity="0.7"/>
<polygon points="426.2,469 430.4,477 422,477" fill="none" stroke="#ff4dff" stroke-width="1"/><path d="M426.2 470.6V477" stroke="#ff4dff" stroke-width="0.8" fill="none" opacity="0.7"/>
<polygon points="433.8,461.5 438,469.5 429.6,469.5" fill="none" stroke="#ff4dff" stroke-width="1"/><path d="M433.8 463.1V469.5" stroke="#ff4dff" stroke-width="0.8" fill="none" opacity="0.7"/>
<polygon points="435.2,456.7 439.4,464.7 431,464.7" fill="none" stroke="#ff4dff" stroke-width="1"/><path d="M435.2 458.3V464.7" stroke="#ff4dff" stroke-width="0.8" fill="none" opacity="0.7"/>
<polygon points="440,463.4 444.2,471.4 435.8,471.4" fill="none" stroke="#ff4dff" stroke-width="1"/><path d="M440 465V471.4" stroke="#ff4dff" stroke-width="0.8" fill="none" opacity="0.7"/>
<polygon points="473.3,528.8 477.5,536.8 469.1,536.8" fill="none" stroke="#ff4dff" stroke-width="1"/><path d="M473.3 530.4V536.8" stroke="#ff4dff" stroke-width="0.8" fill="none" opacity="0.7"/>
<polygon points="476.6,546.4 480.8,554.4 472.4,554.4" fill="none" stroke="#ff4dff" stroke-width="1"/><path d="M476.6 548V554.4" stroke="#ff4dff" stroke-width="0.8" fill="none" opacity="0.7"/>
<polygon points="483.8,561.2 488,569.2 479.6,569.2" fill="none" stroke="#ff4dff" stroke-width="1"/><path d="M483.8 562.8V569.2" stroke="#ff4dff" stroke-width="0.8" fill="none" opacity="0.7"/>
<polygon points="489,567.9 493.2,575.9 484.8,575.9" fill="none" stroke="#ff4dff" stroke-width="1"/><path d="M489 569.5V575.9" stroke="#ff4dff" stroke-width="0.8" fill="none" opacity="0.7"/>
<polygon points="494.7,577.4 498.9,585.4 490.5,585.4" fill="none" stroke="#ff4dff" stroke-width="1"/><path d="M494.7 579V585.4" stroke="#ff4dff" stroke-width="0.8" fill="none" opacity="0.7"/>
<polygon points="497.6,585.9 501.8,593.9 493.4,593.9" fill="none" stroke="#ff4dff" stroke-width="1"/><path d="M497.6 587.5V593.9" stroke="#ff4dff" stroke-width="0.8" fill="none" opacity="0.7"/>
<polygon points="496.6,589.7 500.8,597.7 492.4,597.7" fill="none" stroke="#ff4dff" stroke-width="1"/><path d="M496.6 591.3V597.7" stroke="#ff4dff" stroke-width="0.8" fill="none" opacity="0.7"/>
<polygon points="501.4,594.5 505.6,602.5 497.2,602.5" fill="none" stroke="#ff4dff" stroke-width="1"/><path d="M501.4 596.1V602.5" stroke="#ff4dff" stroke-width="0.8" fill="none" opacity="0.7"/>
<polygon points="506.1,597.8 510.3,605.8 501.9,605.8" fill="none" stroke="#ff4dff" stroke-width="1"/><path d="M506.1 599.4V605.8" stroke="#ff4dff" stroke-width="0.8" fill="none" opacity="0.7"/>
<polygon points="510.9,603 515.1,611 506.7,611" fill="none" stroke="#ff4dff" stroke-width="1"/><path d="M510.9 604.6V611" stroke="#ff4dff" stroke-width="0.8" fill="none" opacity="0.7"/>
<polygon points="511.2,606.4 515.4,614.4 507,614.4" fill="none" stroke="#ff4dff" stroke-width="1"/><path d="M511.2 608V614.4" stroke="#ff4dff" stroke-width="0.8" fill="none" opacity="0.7"/>
<polygon points="498.8,588.9 503,596.9 494.6,596.9" fill="none" stroke="#ff4dff" stroke-width="1"/><path d="M498.8 590.5V596.9" stroke="#ff4dff" stroke-width="0.8" fill="none" opacity="0.7"/>
<polygon points="499.8,595.5 504,603.5 495.6,603.5" fill="none" stroke="#ff4dff" stroke-width="1"/><path d="M499.8 597.1V603.5" stroke="#ff4dff" stroke-width="0.8" fill="none" opacity="0.7"/>
<polygon points="378.9,492.2 383.5,496.8 378.9,501.4 374.3,496.8" fill="none" stroke="#ff5a5a" stroke-width="1"/><path d="M378.9 494.2V499.4M377.6 494.2H380.2M377.6 499.4H380.2" stroke="#ff5a5a" stroke-width="0.8" fill="none" opacity="0.7"/>
<polygon points="393.2,472.7 397.8,477.3 393.2,481.9 388.6,477.3" fill="none" stroke="#ff5a5a" stroke-width="1"/><path d="M393.2 474.7V479.9M391.9 474.7H394.5M391.9 479.9H394.5" stroke="#ff5a5a" stroke-width="0.8" fill="none" opacity="0.7"/>
<polygon points="427.1,488.4 431.7,493 427.1,497.6 422.5,493" fill="none" stroke="#ff5a5a" stroke-width="1"/><path d="M427.1 490.4V495.6M425.8 490.4H428.4M425.8 495.6H428.4" stroke="#ff5a5a" stroke-width="0.8" fill="none" opacity="0.7"/>
<polygon points="433.8,483.7 438.4,488.3 433.8,492.9 429.2,488.3" fill="none" stroke="#ff5a5a" stroke-width="1"/><path d="M433.8 485.7V490.9M432.5 485.7H435.1M432.5 490.9H435.1" stroke="#ff5a5a" stroke-width="0.8" fill="none" opacity="0.7"/>
<polygon points="437.6,479.9 442.2,484.5 437.6,489.1 433,484.5" fill="none" stroke="#ff5a5a" stroke-width="1"/><path d="M437.6 481.9V487.1M436.3 481.9H438.9M436.3 487.1H438.9" stroke="#ff5a5a" stroke-width="0.8" fill="none" opacity="0.7"/>
<polygon points="446.1,484.6 450.7,489.2 446.1,493.8 441.5,489.2" fill="none" stroke="#ff5a5a" stroke-width="1"/><path d="M446.1 486.6V491.8M444.8 486.6H447.4M444.8 491.8H447.4" stroke="#ff5a5a" stroke-width="0.8" fill="none" opacity="0.7"/>
<path d="M393.9 458.3H402.9M398.4 453.8V462.8M395.02 454.93L401.77 461.68M395.02 461.68L401.77 454.93" stroke="#ffb030" stroke-width="0.9" fill="none" opacity="0.85"/>
<path d="M402.9 469.2H411.9M407.4 464.7V473.7M404.02 465.82L410.77 472.57M404.02 472.57L410.77 465.82" stroke="#ffb030" stroke-width="0.9" fill="none" opacity="0.85"/>
<path d="M367.5 497H376.5M372 492.5V501.5M368.62 493.62L375.38 500.38M368.62 500.38L375.38 493.62" stroke="#ffb030" stroke-width="0.9" fill="none" opacity="0.85"/>
<path d="M366.5 510H375.5M371 505.5V514.5M367.62 506.62L374.38 513.38M367.62 513.38L374.38 506.62" stroke="#ffb030" stroke-width="0.9" fill="none" opacity="0.85"/>
<polygon points="378.9,474.2 383.1,466.2 374.7,466.2" fill="#8c00ff"/>
<polygon points="389.8,458.5 394,450.5 385.6,450.5" fill="#8c00ff"/>
<polygon points="439.5,489.9 443.7,481.9 435.3,481.9" fill="#8c00ff"/>
<polygon points="453.7,492.3 457.9,484.3 449.5,484.3" fill="#8c00ff"/>
<polygon points="469.5,542 473.7,534 465.3,534" fill="#8c00ff"/>
<polygon points="505.6,600.6 509.8,592.6 501.4,592.6" fill="#8c00ff"/>
<circle cx="368" cy="560.7" r="4.45" fill="#000"/>
<circle cx="369.9" cy="552.6" r="4.45" fill="#000"/>
<circle cx="369.9" cy="538.7" r="4.45" fill="#000"/>
<circle cx="371.8" cy="525.9" r="4.45" fill="#000"/>
<circle cx="373.7" cy="519.2" r="4.45" fill="#000"/>
<circle cx="375.1" cy="500.4" r="4.45" fill="#000"/>
<circle cx="377" cy="490.4" r="4.45" fill="#000"/>
<circle cx="378.4" cy="479.2" r="4.45" fill="#000"/>
<circle cx="380.8" cy="475.4" r="4.45" fill="#000"/>
<circle cx="382.7" cy="472.6" r="4.45" fill="#000"/>
<circle cx="384.1" cy="464.5" r="4.45" fill="#000"/>
<circle cx="391.3" cy="461.2" r="4.45" fill="#000"/>
<circle cx="395.5" cy="466.4" r="4.45" fill="#000"/>
<circle cx="398.9" cy="475.4" r="4.45" fill="#000"/>
<circle cx="405.5" cy="484" r="4.45" fill="#000"/>
<circle cx="409.3" cy="486.8" r="4.45" fill="#000"/>
<circle cx="411.9" cy="486.4" r="4.45" fill="#000"/>
<circle cx="413.7" cy="489" r="4.45" fill="#000"/>
<circle cx="419" cy="485.4" r="4.45" fill="#000"/>
<circle cx="426.2" cy="485" r="4.45" fill="#000"/>
<circle cx="433.3" cy="479.2" r="4.45" fill="#000"/>
<circle cx="437.1" cy="474" r="4.45" fill="#000"/>
<circle cx="446.1" cy="476.9" r="4.45" fill="#000"/>
<circle cx="449.4" cy="479.2" r="4.45" fill="#000"/>
<circle cx="453.7" cy="482.6" r="4.45" fill="#000"/>
<circle cx="458.5" cy="494.4" r="4.45" fill="#000"/>
<circle cx="471.4" cy="526.1" r="4.45" fill="#000"/>
<circle cx="478.5" cy="542.8" r="4.45" fill="#000"/>
<circle cx="484" cy="553" r="4.45" fill="#000"/>
<circle cx="491.6" cy="560.5" r="4.45" fill="#000"/>
<circle cx="505.3" cy="590.5" r="4.45" fill="#000"/>
<circle cx="512.7" cy="599.5" r="4.45" fill="#000"/>
<circle cx="525.4" cy="615.2" r="4.45" fill="#000"/>
<circle cx="533" cy="620.4" r="4.45" fill="#000"/>
<line x1="467.6" y1="524.7" x2="532.5" y2="626.1" stroke="#ffff00" stroke-width="2"/>
<text x="288.2" y="26.8">Y</text>
<text x="594.0" y="26.2">J</text>
<text x="288.3" y="454.5">H</text>
<text x="593.8" y="461.5">Ks</text>
<line x1="70.6" y1="313.8" x2="97.9" y2="313.8" stroke="#ffff00" stroke-width="2"/>
<text x="108.4" y="314.1" font-size="16">decay rate</text>
<text x="189.0" y="314.1" font-size="16.5" style="font-family:'Liberation Serif',serif">β</text>
<text x="201.8" y="314.1" font-size="16">by</text>
<text x="62.0" y="349.0" font-size="16" textLength="214.6" lengthAdjust="spacing">fitting to data ranging 40−90 d</text>
<polygon points="88.8,620.8 90.09,624.32 93.84,624.46 90.89,626.78 91.92,630.39 88.8,628.3 85.68,630.39 86.71,626.78 83.76,624.46 87.51,624.32" fill="#0000ff"/>
<polygon points="88.8,649.3 93.4,653.9 88.8,658.5 84.2,653.9" fill="none" stroke="#ff5a5a" stroke-width="1"/>
<path d="M84.3 681.8H93.3M88.8 677.3V686.3M85.42 678.42L92.17 685.17M85.42 685.17L92.17 678.42" stroke="#ffb030" stroke-width="0.9" fill="none" opacity="0.85"/>
<polygon points="88.8,705.7 93,713.7 84.6,713.7" fill="none" stroke="#ff4dff" stroke-width="1"/>
<rect x="84.7" y="733.5" width="8.2" height="8.2" fill="none" stroke="#8fbc8f" stroke-width="1"/>
<polygon points="88.8,761.5 93,769.5 84.6,769.5" fill="#a0522d"/>
<polygon points="88.8,796.8 93,788.8 84.6,788.8" fill="#8c00ff"/>
<path d="M157 733.1L166 742.1M157 742.1L166 733.1" stroke="#44ee44" stroke-width="1.0" fill="none"/>
<rect x="157.2" y="760.8" width="8.6" height="8.6" fill="#ff1493"/>
<circle cx="161.5" cy="792.8" r="4.45" fill="#000"/>
<text x="99.9" y="632.9">11fe</text>
<text x="99.9" y="660.8">05cf</text>
<text x="99.9" y="688.7">03du</text>
<text x="99.9" y="716.6">01el</text>
<text x="99.9" y="744.5">02dj</text>
<text x="99.9" y="772.4">04S</text>
<text x="99.9" y="800.3">14J</text>
<text x="173.0" y="744.5">12fr</text>
<text x="173.0" y="772.4">12cg</text>
<text x="173.0" y="800.3">17cbv</text>
<text x="220.0" y="862.4" font-size="16.2">Days since B band maximum</text>
<text transform="translate(11.8 430.6) rotate(-90)" font-size="16">Magnitude</text></svg></body></html>
